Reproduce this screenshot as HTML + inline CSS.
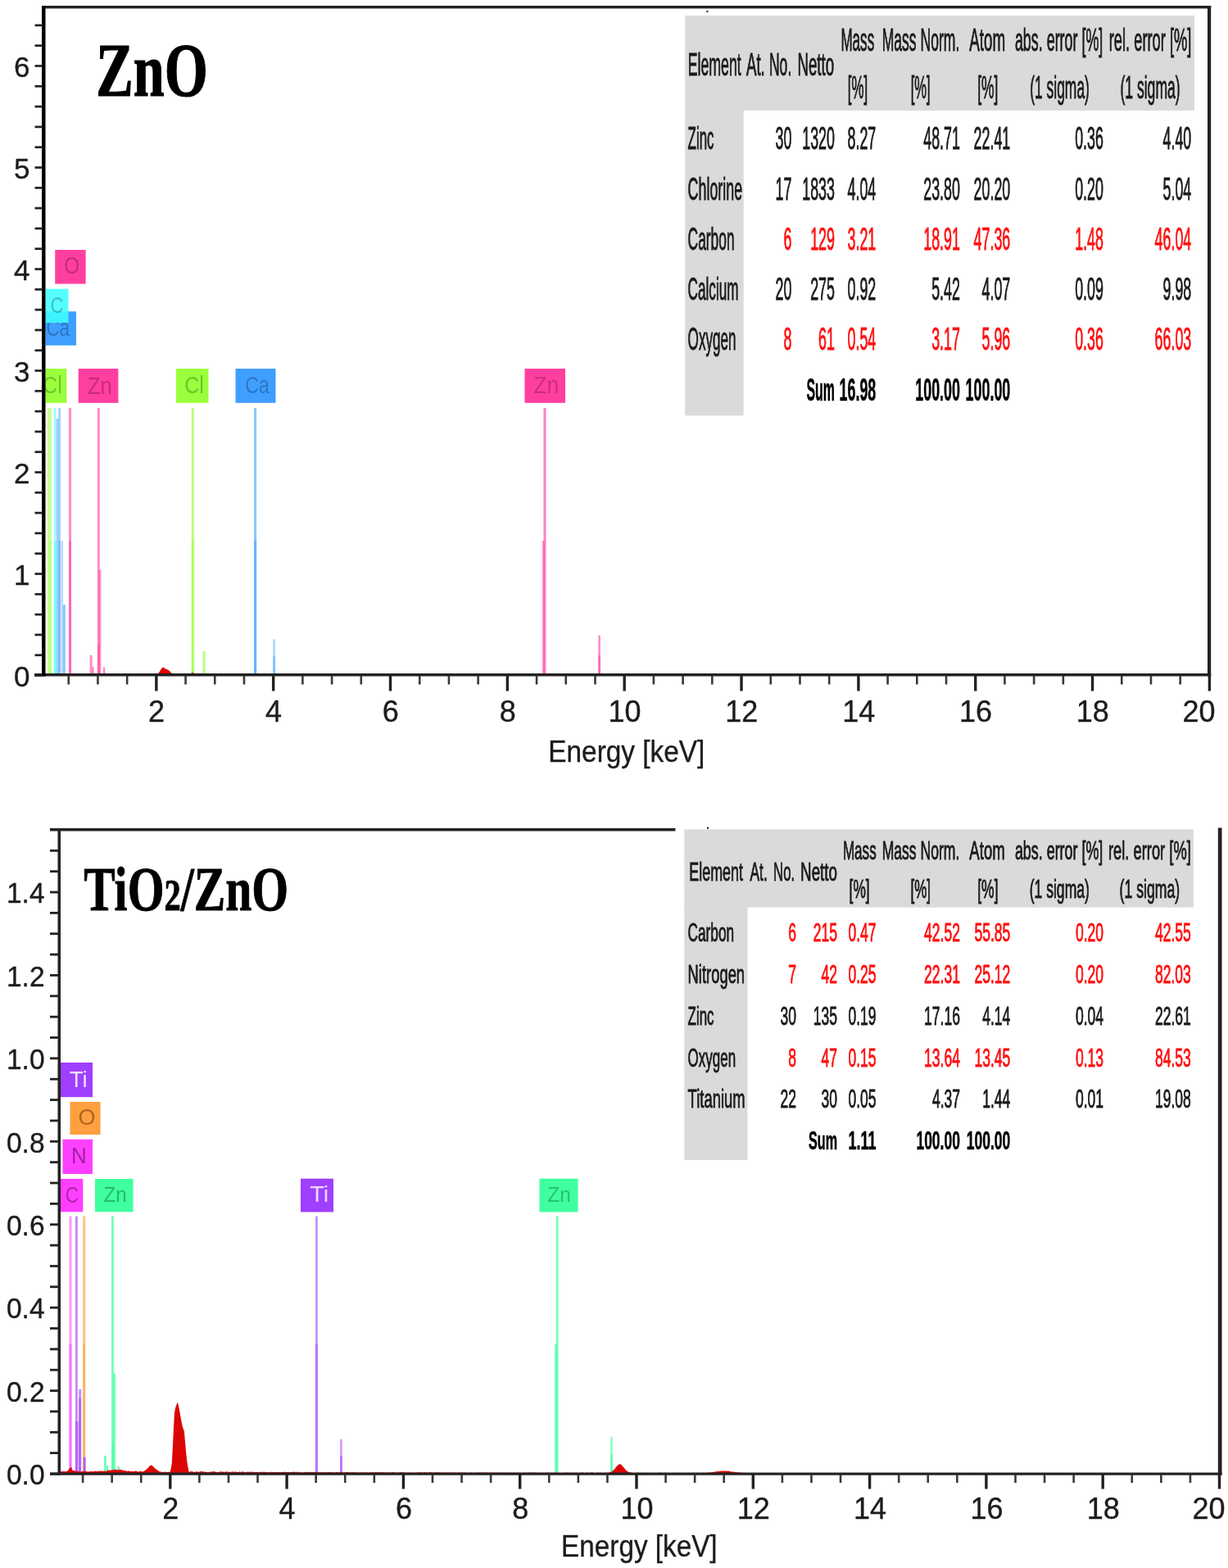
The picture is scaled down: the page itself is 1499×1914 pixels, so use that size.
<!DOCTYPE html>
<html lang="en"><head><meta charset="utf-8"><title>EDX spectra ZnO and TiO2/ZnO</title>
<style>html,body{margin:0;padding:0;background:#fff}body{width:1499px;height:1914px;overflow:hidden}svg{display:block}text{white-space:pre}</style>
</head><body>
<svg width="1499" height="1914" viewBox="0 0 1499 1914">
<rect x="57.77" y="498.00" width="2.60" height="324.50" fill="#9aff3c" opacity="0.55"/>
<rect x="60.13" y="498.00" width="2.60" height="324.50" fill="#9aff3c" opacity="0.55"/>
<rect x="60.13" y="660.25" width="2.60" height="162.25" fill="#9aff3c" opacity="0.4"/>
<rect x="65.84" y="498.00" width="2.60" height="324.50" fill="#3fffff" opacity="0.55"/>
<rect x="65.84" y="660.25" width="2.60" height="162.25" fill="#3fffff" opacity="0.5"/>
<rect x="68.64" y="510.98" width="3.00" height="311.52" fill="#3f9fff" opacity="0.5"/>
<rect x="71.14" y="498.00" width="3.00" height="324.50" fill="#3f9fff" opacity="0.45"/>
<rect x="71.34" y="660.25" width="2.60" height="162.25" fill="#3f9fff" opacity="0.4"/>
<rect x="74.65" y="660.25" width="2.40" height="162.25" fill="#3f9fff" opacity="0.35"/>
<rect x="76.85" y="738.13" width="3.00" height="84.37" fill="#3f9fff" opacity="0.6"/>
<rect x="84.00" y="498.00" width="3.00" height="324.50" fill="#ff3f9f" opacity="0.6"/>
<rect x="84.00" y="660.25" width="3.00" height="162.25" fill="#ff3f9f" opacity="0.5"/>
<rect x="109.64" y="799.78" width="3.00" height="22.72" fill="#ff3f9f" opacity="0.6"/>
<rect x="112.10" y="814.39" width="2.50" height="8.11" fill="#ff3f9f" opacity="0.6"/>
<rect x="118.78" y="498.00" width="3.00" height="324.50" fill="#ff3f9f" opacity="0.6"/>
<rect x="120.42" y="695.94" width="3.00" height="126.56" fill="#ff3f9f" opacity="0.55"/>
<rect x="118.98" y="786.80" width="2.60" height="35.70" fill="#ff3f9f" opacity="0.5"/>
<rect x="125.81" y="814.39" width="2.50" height="8.11" fill="#ff3f9f" opacity="0.6"/>
<rect x="233.76" y="498.00" width="3.00" height="324.50" fill="#9aff3c" opacity="0.7"/>
<rect x="233.76" y="660.25" width="3.00" height="162.25" fill="#9aff3c" opacity="0.5"/>
<rect x="247.62" y="794.92" width="3.00" height="27.58" fill="#9aff3c" opacity="0.7"/>
<rect x="310.11" y="498.00" width="3.00" height="324.50" fill="#3f9fff" opacity="0.62"/>
<rect x="310.11" y="660.25" width="3.00" height="162.25" fill="#3f9fff" opacity="0.5"/>
<rect x="333.11" y="780.32" width="3.00" height="42.18" fill="#3f9fff" opacity="0.4"/>
<rect x="333.11" y="801.41" width="3.00" height="21.09" fill="#3f9fff" opacity="0.4"/>
<rect x="663.50" y="498.00" width="3.00" height="324.50" fill="#ff3f9f" opacity="0.65"/>
<rect x="662.05" y="660.25" width="2.60" height="162.25" fill="#ff3f9f" opacity="0.6"/>
<rect x="730.33" y="775.45" width="2.60" height="47.05" fill="#ff3f9f" opacity="0.6"/>
<rect x="730.33" y="799.78" width="2.60" height="22.72" fill="#ff3f9f" opacity="0.5"/>
<path d="M192.5 823 L195 819.5 L197.5 815.5 L199.5 814.5 L202 816.5 L205 817.5 L207.5 819.5 L210.5 823 Z" fill="#dc0505"/>
<path d="M231 823 L235 820.8 L238.5 823 Z" fill="#dc0505"/>
<path d="M124 823 L128 821.8 L136 823 Z" fill="#ff3f9f" opacity="0.6"/>
<rect x="55.50" y="380.20" width="37.50" height="41.40" fill="#3f9fff" />
<text x="56.40" y="409.50" font-size="29" fill="#0a3264" font-family='"Liberation Sans", sans-serif' textLength="28.70" lengthAdjust="spacingAndGlyphs" opacity="0.36">Ca</text>
<rect x="55.50" y="352.60" width="28.00" height="41.40" fill="#3fffff" opacity="0.88"/>
<text x="61.60" y="381.80" font-size="28" fill="#0a5050" font-family='"Liberation Sans", sans-serif' textLength="16.00" lengthAdjust="spacingAndGlyphs" opacity="0.36">C</text>
<rect x="67.20" y="305.00" width="37.40" height="41.50" fill="#ff3f9f" />
<text x="78.20" y="334.00" font-size="30" fill="#5a0832" font-family='"Liberation Sans", sans-serif' textLength="18.90" lengthAdjust="spacingAndGlyphs" opacity="0.34">O</text>
<rect x="55.50" y="450.00" width="25.90" height="41.80" fill="#9aff3c" />
<text x="52.10" y="480.00" font-size="29" fill="#2c5a05" font-family='"Liberation Sans", sans-serif' textLength="23.60" lengthAdjust="spacingAndGlyphs" opacity="0.36">Cl</text>
<rect x="95.70" y="450.00" width="48.70" height="41.80" fill="#ff3f9f" />
<text x="107.00" y="481.00" font-size="29.5" fill="#5a0832" font-family='"Liberation Sans", sans-serif' textLength="29.80" lengthAdjust="spacingAndGlyphs" opacity="0.34">Zn</text>
<rect x="215.00" y="450.00" width="39.50" height="41.80" fill="#9aff3c" />
<text x="225.20" y="480.00" font-size="29" fill="#2c5a05" font-family='"Liberation Sans", sans-serif' textLength="23.60" lengthAdjust="spacingAndGlyphs" opacity="0.36">Cl</text>
<rect x="287.50" y="450.00" width="49.00" height="41.80" fill="#3f9fff" />
<text x="299.20" y="480.00" font-size="29" fill="#0a3264" font-family='"Liberation Sans", sans-serif' textLength="29.60" lengthAdjust="spacingAndGlyphs" opacity="0.36">Ca</text>
<rect x="640.50" y="450.00" width="49.50" height="41.80" fill="#ff3f9f" />
<text x="651.20" y="480.00" font-size="29" fill="#5a0832" font-family='"Liberation Sans", sans-serif' textLength="31.10" lengthAdjust="spacingAndGlyphs" opacity="0.3">Zn</text>
<rect x="51.00" y="7.00" width="1427.20" height="3.40" fill="#222" />
<rect x="1474.00" y="7.00" width="4.20" height="818.50" fill="#222" />
<rect x="42.00" y="822.00" width="1436.20" height="3.50" fill="#222" />
<rect x="51.00" y="7.00" width="4.50" height="818.50" fill="#000" />
<rect x="42.50" y="823.15" width="9.50" height="2.70" fill="#222" />
<rect x="42.50" y="798.35" width="9.50" height="2.70" fill="#222" />
<rect x="42.50" y="773.55" width="9.50" height="2.70" fill="#222" />
<rect x="42.50" y="748.75" width="9.50" height="2.70" fill="#222" />
<rect x="42.50" y="723.95" width="9.50" height="2.70" fill="#222" />
<rect x="42.50" y="699.15" width="9.50" height="2.70" fill="#222" />
<rect x="42.50" y="674.35" width="9.50" height="2.70" fill="#222" />
<rect x="42.50" y="649.55" width="9.50" height="2.70" fill="#222" />
<rect x="42.50" y="624.75" width="9.50" height="2.70" fill="#222" />
<rect x="42.50" y="599.95" width="9.50" height="2.70" fill="#222" />
<rect x="42.50" y="575.15" width="9.50" height="2.70" fill="#222" />
<rect x="42.50" y="550.35" width="9.50" height="2.70" fill="#222" />
<rect x="42.50" y="525.55" width="9.50" height="2.70" fill="#222" />
<rect x="42.50" y="500.75" width="9.50" height="2.70" fill="#222" />
<rect x="42.50" y="475.95" width="9.50" height="2.70" fill="#222" />
<rect x="42.50" y="451.15" width="9.50" height="2.70" fill="#222" />
<rect x="42.50" y="426.35" width="9.50" height="2.70" fill="#222" />
<rect x="42.50" y="401.55" width="9.50" height="2.70" fill="#222" />
<rect x="42.50" y="376.75" width="9.50" height="2.70" fill="#222" />
<rect x="42.50" y="351.95" width="9.50" height="2.70" fill="#222" />
<rect x="42.50" y="327.15" width="9.50" height="2.70" fill="#222" />
<rect x="42.50" y="302.35" width="9.50" height="2.70" fill="#222" />
<rect x="42.50" y="277.55" width="9.50" height="2.70" fill="#222" />
<rect x="42.50" y="252.75" width="9.50" height="2.70" fill="#222" />
<rect x="42.50" y="227.95" width="9.50" height="2.70" fill="#222" />
<rect x="42.50" y="203.15" width="9.50" height="2.70" fill="#222" />
<rect x="42.50" y="178.35" width="9.50" height="2.70" fill="#222" />
<rect x="42.50" y="153.55" width="9.50" height="2.70" fill="#222" />
<rect x="42.50" y="128.75" width="9.50" height="2.70" fill="#222" />
<rect x="42.50" y="103.95" width="9.50" height="2.70" fill="#222" />
<rect x="42.50" y="79.15" width="9.50" height="2.70" fill="#222" />
<rect x="42.50" y="54.35" width="9.50" height="2.70" fill="#222" />
<rect x="42.50" y="29.55" width="9.50" height="2.70" fill="#222" />
<text x="36.50" y="837.70" font-size="35" fill="#1c1c1c" font-family='"Liberation Sans", sans-serif' text-anchor="end" stroke="#1c1c1c" stroke-width="0.35" >0</text>
<text x="36.50" y="713.70" font-size="35" fill="#1c1c1c" font-family='"Liberation Sans", sans-serif' text-anchor="end" stroke="#1c1c1c" stroke-width="0.35" >1</text>
<text x="36.50" y="589.70" font-size="35" fill="#1c1c1c" font-family='"Liberation Sans", sans-serif' text-anchor="end" stroke="#1c1c1c" stroke-width="0.35" >2</text>
<text x="36.50" y="465.70" font-size="35" fill="#1c1c1c" font-family='"Liberation Sans", sans-serif' text-anchor="end" stroke="#1c1c1c" stroke-width="0.35" >3</text>
<text x="36.50" y="341.70" font-size="35" fill="#1c1c1c" font-family='"Liberation Sans", sans-serif' text-anchor="end" stroke="#1c1c1c" stroke-width="0.35" >4</text>
<text x="36.50" y="217.70" font-size="35" fill="#1c1c1c" font-family='"Liberation Sans", sans-serif' text-anchor="end" stroke="#1c1c1c" stroke-width="0.35" >5</text>
<text x="36.50" y="93.70" font-size="35" fill="#1c1c1c" font-family='"Liberation Sans", sans-serif' text-anchor="end" stroke="#1c1c1c" stroke-width="0.35" >6</text>
<rect x="82.41" y="825.00" width="2.60" height="10.50" fill="#3a3a3a" />
<rect x="118.12" y="825.00" width="2.60" height="10.50" fill="#3a3a3a" />
<rect x="153.83" y="825.00" width="2.60" height="10.50" fill="#3a3a3a" />
<rect x="189.14" y="825.00" width="3.40" height="18.50" fill="#222" />
<rect x="225.25" y="825.00" width="2.60" height="10.50" fill="#3a3a3a" />
<rect x="260.96" y="825.00" width="2.60" height="10.50" fill="#3a3a3a" />
<rect x="296.67" y="825.00" width="2.60" height="10.50" fill="#3a3a3a" />
<rect x="331.98" y="825.00" width="3.40" height="18.50" fill="#222" />
<rect x="368.09" y="825.00" width="2.60" height="10.50" fill="#3a3a3a" />
<rect x="403.80" y="825.00" width="2.60" height="10.50" fill="#3a3a3a" />
<rect x="439.51" y="825.00" width="2.60" height="10.50" fill="#3a3a3a" />
<rect x="474.82" y="825.00" width="3.40" height="18.50" fill="#222" />
<rect x="510.93" y="825.00" width="2.60" height="10.50" fill="#3a3a3a" />
<rect x="546.64" y="825.00" width="2.60" height="10.50" fill="#3a3a3a" />
<rect x="582.35" y="825.00" width="2.60" height="10.50" fill="#3a3a3a" />
<rect x="617.66" y="825.00" width="3.40" height="18.50" fill="#222" />
<rect x="653.77" y="825.00" width="2.60" height="10.50" fill="#3a3a3a" />
<rect x="689.48" y="825.00" width="2.60" height="10.50" fill="#3a3a3a" />
<rect x="725.19" y="825.00" width="2.60" height="10.50" fill="#3a3a3a" />
<rect x="760.50" y="825.00" width="3.40" height="18.50" fill="#222" />
<rect x="796.61" y="825.00" width="2.60" height="10.50" fill="#3a3a3a" />
<rect x="832.32" y="825.00" width="2.60" height="10.50" fill="#3a3a3a" />
<rect x="868.03" y="825.00" width="2.60" height="10.50" fill="#3a3a3a" />
<rect x="903.34" y="825.00" width="3.40" height="18.50" fill="#222" />
<rect x="939.45" y="825.00" width="2.60" height="10.50" fill="#3a3a3a" />
<rect x="975.16" y="825.00" width="2.60" height="10.50" fill="#3a3a3a" />
<rect x="1010.87" y="825.00" width="2.60" height="10.50" fill="#3a3a3a" />
<rect x="1046.18" y="825.00" width="3.40" height="18.50" fill="#222" />
<rect x="1082.29" y="825.00" width="2.60" height="10.50" fill="#3a3a3a" />
<rect x="1118.00" y="825.00" width="2.60" height="10.50" fill="#3a3a3a" />
<rect x="1153.71" y="825.00" width="2.60" height="10.50" fill="#3a3a3a" />
<rect x="1189.02" y="825.00" width="3.40" height="18.50" fill="#222" />
<rect x="1225.13" y="825.00" width="2.60" height="10.50" fill="#3a3a3a" />
<rect x="1260.84" y="825.00" width="2.60" height="10.50" fill="#3a3a3a" />
<rect x="1296.55" y="825.00" width="2.60" height="10.50" fill="#3a3a3a" />
<rect x="1331.86" y="825.00" width="3.40" height="18.50" fill="#222" />
<rect x="1367.97" y="825.00" width="2.60" height="10.50" fill="#3a3a3a" />
<rect x="1403.68" y="825.00" width="2.60" height="10.50" fill="#3a3a3a" />
<rect x="1439.39" y="825.00" width="2.60" height="10.50" fill="#3a3a3a" />
<rect x="1474.70" y="825.00" width="3.40" height="18.50" fill="#222" />
<text x="191.14" y="880.60" font-size="36" fill="#1c1c1c" font-family='"Liberation Sans", sans-serif' text-anchor="middle" stroke="#1c1c1c" stroke-width="0.35" >2</text>
<text x="333.98" y="880.60" font-size="36" fill="#1c1c1c" font-family='"Liberation Sans", sans-serif' text-anchor="middle" stroke="#1c1c1c" stroke-width="0.35" >4</text>
<text x="476.82" y="880.60" font-size="36" fill="#1c1c1c" font-family='"Liberation Sans", sans-serif' text-anchor="middle" stroke="#1c1c1c" stroke-width="0.35" >6</text>
<text x="619.66" y="880.60" font-size="36" fill="#1c1c1c" font-family='"Liberation Sans", sans-serif' text-anchor="middle" stroke="#1c1c1c" stroke-width="0.35" >8</text>
<text x="762.50" y="880.60" font-size="36" fill="#1c1c1c" font-family='"Liberation Sans", sans-serif' text-anchor="middle" stroke="#1c1c1c" stroke-width="0.35" >10</text>
<text x="905.34" y="880.60" font-size="36" fill="#1c1c1c" font-family='"Liberation Sans", sans-serif' text-anchor="middle" stroke="#1c1c1c" stroke-width="0.35" >12</text>
<text x="1048.18" y="880.60" font-size="36" fill="#1c1c1c" font-family='"Liberation Sans", sans-serif' text-anchor="middle" stroke="#1c1c1c" stroke-width="0.35" >14</text>
<text x="1191.02" y="880.60" font-size="36" fill="#1c1c1c" font-family='"Liberation Sans", sans-serif' text-anchor="middle" stroke="#1c1c1c" stroke-width="0.35" >16</text>
<text x="1333.86" y="880.60" font-size="36" fill="#1c1c1c" font-family='"Liberation Sans", sans-serif' text-anchor="middle" stroke="#1c1c1c" stroke-width="0.35" >18</text>
<text x="1483.50" y="880.60" font-size="36" fill="#1c1c1c" font-family='"Liberation Sans", sans-serif' text-anchor="end" stroke="#1c1c1c" stroke-width="0.35" >20</text>
<text x="669.30" y="930.30" font-size="36" fill="#1c1c1c" font-family='"Liberation Sans", sans-serif' textLength="191.00" lengthAdjust="spacingAndGlyphs" stroke="#1c1c1c" stroke-width="0.35" >Energy [keV]</text>
<text x="117.30" y="117.00" font-size="94" fill="#000" font-family='"Liberation Serif", serif' textLength="136.50" lengthAdjust="spacingAndGlyphs" font-weight="bold" stroke="#000" stroke-width="1.2" >ZnO</text>
<rect x="84.49" y="1484.60" width="3.00" height="312.90" fill="#ff3fff" opacity="0.55"/>
<rect x="84.49" y="1641.05" width="3.00" height="156.45" fill="#ff3fff" opacity="0.5"/>
<rect x="91.89" y="1484.60" width="3.00" height="312.90" fill="#9f3fff" opacity="0.6"/>
<rect x="91.89" y="1734.92" width="3.00" height="62.58" fill="#9f3fff" opacity="0.5"/>
<rect x="96.16" y="1695.81" width="3.00" height="101.69" fill="#9f3fff" opacity="0.6"/>
<rect x="96.16" y="1706.76" width="3.00" height="90.74" fill="#9f3fff" opacity="0.5"/>
<rect x="94.42" y="1734.92" width="2.50" height="62.58" fill="#9f3fff" opacity="0.3"/>
<rect x="101.14" y="1484.60" width="3.00" height="312.90" fill="#ff9f3f" opacity="0.65"/>
<rect x="101.14" y="1641.05" width="3.00" height="156.45" fill="#ff9f3f" opacity="0.45"/>
<rect x="101.71" y="1778.73" width="3.00" height="18.77" fill="#9f3fff" opacity="0.7"/>
<rect x="127.10" y="1776.85" width="2.60" height="20.65" fill="#3fff9f" opacity="0.8"/>
<rect x="129.71" y="1789.68" width="2.50" height="7.82" fill="#3fff9f" opacity="0.8"/>
<rect x="136.00" y="1484.60" width="3.00" height="312.90" fill="#3fff9f" opacity="0.7"/>
<rect x="138.00" y="1676.41" width="3.00" height="121.09" fill="#3fff9f" opacity="0.7"/>
<rect x="136.00" y="1763.08" width="3.00" height="34.42" fill="#3fff9f" opacity="0.5"/>
<rect x="143.58" y="1789.99" width="2.50" height="7.51" fill="#3fff9f" opacity="0.8"/>
<rect x="384.96" y="1484.60" width="3.00" height="312.90" fill="#9f3fff" opacity="0.55"/>
<rect x="384.96" y="1641.05" width="3.00" height="156.45" fill="#9f3fff" opacity="0.4"/>
<rect x="415.01" y="1756.82" width="2.80" height="40.68" fill="#9f3fff" opacity="0.5"/>
<rect x="415.01" y="1777.16" width="2.80" height="20.34" fill="#9f3fff" opacity="0.5"/>
<rect x="678.66" y="1484.60" width="3.00" height="312.90" fill="#3fff9f" opacity="0.7"/>
<rect x="677.23" y="1641.05" width="2.60" height="156.45" fill="#3fff9f" opacity="0.75"/>
<rect x="745.25" y="1753.69" width="2.60" height="43.81" fill="#3fff9f" opacity="0.6"/>
<rect x="745.25" y="1775.60" width="2.60" height="21.90" fill="#3fff9f" opacity="0.6"/>
<path d="M74 1799 L74.0 1796.1 L75.0 1796.4 L76.0 1795.6 L77.0 1796.5 L78.0 1795.8 L79.0 1796.0 L80.0 1796.5 L81.0 1795.7 L82.0 1796.1 L83.0 1794.7 L84.0 1793.8 L85.0 1792.2 L86.0 1791.0 L87.0 1791.1 L88.0 1793.8 L89.0 1795.1 L90.0 1795.3 L91.0 1795.1 L92.0 1795.8 L93.0 1796.1 L94.0 1795.2 L95.0 1796.6 L96.0 1795.4 L97.0 1796.2 L98.0 1796.5 L99.0 1796.5 L100.0 1796.2 L101.0 1795.5 L102.0 1796.4 L103.0 1795.8 L104.0 1795.8 L105.0 1796.2 L106.0 1795.9 L107.0 1796.6 L108.0 1796.6 L109.0 1796.4 L110.0 1795.7 L111.0 1796.1 L112.0 1796.3 L113.0 1795.9 L114.0 1796.1 L115.0 1796.3 L116.0 1795.6 L117.0 1795.7 L118.0 1796.3 L119.0 1795.8 L120.0 1795.9 L121.0 1795.4 L122.0 1795.5 L123.0 1796.1 L124.0 1795.1 L125.0 1796.2 L126.0 1795.7 L127.0 1795.2 L128.0 1795.9 L129.0 1795.4 L130.0 1795.9 L131.0 1794.9 L132.0 1794.7 L133.0 1794.8 L134.0 1794.3 L135.0 1794.9 L136.0 1794.3 L137.0 1794.3 L138.0 1794.3 L139.0 1794.4 L140.0 1793.8 L141.0 1793.6 L142.0 1794.2 L143.0 1793.9 L144.0 1794.8 L145.0 1793.9 L146.0 1794.1 L147.0 1793.7 L148.0 1794.0 L149.0 1794.8 L150.0 1794.8 L151.0 1794.5 L152.0 1795.5 L153.0 1795.0 L154.0 1795.6 L155.0 1795.7 L156.0 1795.9 L157.0 1795.1 L158.0 1796.1 L159.0 1796.0 L160.0 1795.9 L161.0 1795.4 L162.0 1796.5 L163.0 1796.0 L164.0 1796.0 L165.0 1795.6 L166.0 1795.7 L167.0 1795.7 L168.0 1796.5 L169.0 1796.3 L170.0 1796.4 L171.0 1795.7 L172.0 1795.6 L173.0 1796.5 L174.0 1796.4 L175.0 1796.1 L176.0 1795.7 L177.0 1794.8 L178.0 1793.9 L179.0 1793.4 L180.0 1792.7 L181.0 1791.1 L182.0 1790.2 L183.0 1789.2 L184.0 1788.3 L185.0 1788.7 L186.0 1789.3 L187.0 1789.9 L188.0 1790.9 L189.0 1792.7 L190.0 1792.7 L191.0 1793.8 L192.0 1794.4 L193.0 1795.1 L194.0 1795.9 L195.0 1796.2 L196.0 1796.7 L197.0 1796.2 L198.0 1796.9 L199.0 1796.9 L200.0 1796.8 L201.0 1796.8 L202.0 1796.6 L203.0 1797.0 L204.0 1797.0 L205.0 1796.8 L206.0 1796.9 L207.0 1796.6 L208.0 1797.0 L209.0 1796.0 L210.0 1796.3 L211.0 1796.9 L212.0 1796.8 L213.0 1796.6 L214.0 1796.6 L215.0 1796.9 L216.0 1796.1 L217.0 1795.9 L218.0 1796.5 L219.0 1796.5 L220.0 1797.0 L221.0 1797.0 L222.0 1796.7 L223.0 1796.8 L224.0 1796.1 L225.0 1796.9 L226.0 1797.1 L227.0 1796.0 L228.0 1796.5 L229.0 1796.9 L230.0 1796.5 L231.0 1797.1 L232.0 1796.5 L233.0 1796.0 L234.0 1796.1 L235.0 1796.3 L236.0 1796.8 L237.0 1796.7 L238.0 1796.9 L239.0 1796.3 L240.0 1796.5 L241.0 1796.3 L242.0 1796.8 L243.0 1796.9 L244.0 1796.3 L245.0 1796.1 L246.0 1796.2 L247.0 1796.3 L248.0 1796.3 L249.0 1796.4 L250.0 1796.9 L251.0 1796.6 L252.0 1796.8 L253.0 1797.1 L254.0 1797.1 L255.0 1796.9 L256.0 1796.9 L257.0 1796.4 L258.0 1796.2 L259.0 1796.7 L260.0 1796.2 L261.0 1796.1 L262.0 1796.2 L263.0 1796.8 L264.0 1797.0 L265.0 1797.0 L266.0 1797.0 L267.0 1797.0 L268.0 1796.6 L269.0 1796.3 L270.0 1796.3 L271.0 1796.7 L272.0 1796.5 L273.0 1796.4 L274.0 1797.1 L275.0 1796.5 L276.0 1796.3 L277.0 1796.4 L278.0 1796.5 L279.0 1796.7 L280.0 1797.1 L281.0 1796.4 L282.0 1796.9 L283.0 1796.4 L284.0 1796.3 L285.0 1796.8 L286.0 1796.8 L287.0 1796.3 L288.0 1796.5 L289.0 1797.1 L290.0 1797.1 L291.0 1797.1 L292.0 1796.4 L293.0 1796.5 L294.0 1797.1 L295.0 1796.5 L296.0 1796.3 L297.0 1796.6 L298.0 1796.9 L299.0 1796.7 L300.0 1797.2 L301.0 1797.3 L302.0 1796.3 L303.0 1796.7 L304.0 1796.8 L305.0 1796.4 L306.0 1796.9 L307.0 1796.5 L308.0 1796.5 L309.0 1797.1 L310.0 1797.1 L311.0 1797.0 L312.0 1797.1 L313.0 1796.8 L314.0 1797.1 L315.0 1796.9 L316.0 1797.2 L317.0 1796.5 L318.0 1797.0 L319.0 1796.9 L320.0 1796.8 L321.0 1796.5 L322.0 1796.9 L323.0 1796.5 L324.0 1796.9 L325.0 1796.8 L326.0 1796.9 L327.0 1797.3 L328.0 1796.9 L329.0 1797.2 L330.0 1797.3 L331.0 1796.6 L332.0 1797.2 L333.0 1796.9 L334.0 1796.7 L335.0 1796.9 L336.0 1797.1 L337.0 1796.9 L338.0 1796.9 L339.0 1796.7 L340.0 1797.3 L341.0 1796.9 L342.0 1797.2 L343.0 1797.1 L344.0 1796.7 L345.0 1796.9 L346.0 1796.9 L347.0 1796.7 L348.0 1796.6 L349.0 1797.0 L350.0 1796.9 L351.0 1797.0 L352.0 1797.0 L353.0 1796.8 L354.0 1797.0 L355.0 1796.9 L356.0 1797.0 L357.0 1796.6 L358.0 1796.8 L359.0 1796.7 L360.0 1796.6 L361.0 1797.2 L362.0 1796.9 L363.0 1796.6 L364.0 1796.7 L365.0 1797.3 L366.0 1797.3 L367.0 1797.1 L368.0 1797.4 L369.0 1797.2 L370.0 1797.4 L371.0 1796.9 L372.0 1796.8 L373.0 1796.7 L374.0 1797.3 L375.0 1796.9 L376.0 1796.9 L377.0 1797.3 L378.0 1796.7 L379.0 1796.7 L380.0 1797.3 L381.0 1796.7 L382.0 1797.1 L383.0 1797.1 L384.0 1796.7 L385.0 1796.8 L386.0 1797.3 L387.0 1797.1 L388.0 1797.1 L389.0 1797.2 L390.0 1797.3 L391.0 1797.2 L392.0 1796.9 L393.0 1797.5 L394.0 1797.0 L395.0 1797.1 L396.0 1797.5 L397.0 1797.2 L398.0 1797.0 L399.0 1797.1 L400.0 1797.5 L401.0 1796.7 L402.0 1796.9 L403.0 1796.7 L404.0 1797.4 L405.0 1797.3 L406.0 1797.5 L407.0 1796.9 L408.0 1797.3 L409.0 1797.4 L410.0 1797.2 L411.0 1796.8 L412.0 1796.9 L413.0 1797.3 L414.0 1797.4 L415.0 1796.8 L416.0 1797.1 L417.0 1797.0 L418.0 1797.5 L419.0 1797.5 L420.0 1797.0 L421.0 1797.2 L422.0 1797.5 L423.0 1796.8 L424.0 1797.1 L425.0 1796.9 L426.0 1797.5 L427.0 1796.9 L428.0 1797.5 L429.0 1796.9 L430.0 1797.2 L431.0 1797.3 L432.0 1797.2 L433.0 1796.9 L434.0 1797.4 L435.0 1797.5 L436.0 1797.2 L437.0 1797.4 L438.0 1797.5 L439.0 1797.5 L440.0 1797.5 L441.0 1797.4 L442.0 1797.4 L443.0 1797.4 L444.0 1797.0 L445.0 1797.4 L446.0 1797.2 L447.0 1797.5 L448.0 1797.3 L449.0 1797.6 L450.0 1797.4 L451.0 1797.6 L452.0 1797.1 L453.0 1797.2 L454.0 1797.5 L455.0 1797.3 L456.0 1796.9 L457.0 1797.5 L458.0 1797.0 L459.0 1797.3 L460.0 1797.3 L461.0 1797.0 L462.0 1797.3 L463.0 1797.3 L464.0 1797.1 L465.0 1796.9 L466.0 1797.4 L467.0 1797.0 L468.0 1797.1 L469.0 1797.2 L470.0 1797.4 L471.0 1797.4 L472.0 1797.6 L473.0 1797.6 L474.0 1797.6 L475.0 1797.1 L476.0 1797.5 L477.0 1797.5 L478.0 1797.6 L479.0 1797.1 L480.0 1797.1 L481.0 1797.2 L482.0 1797.5 L483.0 1797.5 L484.0 1797.5 L485.0 1797.4 L486.0 1797.6 L487.0 1797.4 L488.0 1797.5 L489.0 1797.0 L490.0 1797.0 L491.0 1797.3 L492.0 1797.5 L493.0 1797.0 L494.0 1797.5 L495.0 1797.4 L496.0 1797.7 L497.0 1797.4 L498.0 1797.4 L499.0 1797.4 L500.0 1797.6 L501.0 1797.4 L502.0 1797.7 L503.0 1797.5 L504.0 1797.6 L505.0 1797.4 L506.0 1797.7 L507.0 1797.7 L508.0 1797.5 L509.0 1797.6 L510.0 1797.3 L511.0 1797.4 L512.0 1797.2 L513.0 1797.3 L514.0 1797.3 L515.0 1797.2 L516.0 1797.5 L517.0 1797.5 L518.0 1797.1 L519.0 1797.6 L520.0 1797.3 L521.0 1797.3 L522.0 1797.7 L523.0 1797.2 L524.0 1797.2 L525.0 1797.3 L526.0 1797.3 L527.0 1797.2 L528.0 1797.6 L529.0 1797.4 L530.0 1797.4 L531.0 1797.2 L532.0 1797.2 L533.0 1797.2 L534.0 1797.4 L535.0 1797.2 L536.0 1797.3 L537.0 1797.3 L538.0 1797.6 L539.0 1797.7 L540.0 1797.7 L541.0 1797.5 L542.0 1797.7 L543.0 1797.3 L544.0 1797.4 L545.0 1797.4 L546.0 1797.4 L547.0 1797.4 L548.0 1797.5 L549.0 1797.8 L550.0 1797.3 L551.0 1797.3 L552.0 1797.5 L553.0 1797.5 L554.0 1797.4 L555.0 1797.7 L556.0 1797.3 L557.0 1797.6 L558.0 1797.7 L559.0 1797.6 L560.0 1797.4 L561.0 1797.7 L562.0 1797.4 L563.0 1797.2 L564.0 1797.5 L565.0 1797.6 L566.0 1797.5 L567.0 1797.4 L568.0 1797.4 L569.0 1797.4 L570.0 1797.4 L571.0 1797.7 L572.0 1797.7 L573.0 1797.7 L574.0 1797.4 L575.0 1797.6 L576.0 1797.5 L577.0 1797.8 L578.0 1797.8 L579.0 1797.7 L580.0 1797.4 L581.0 1797.4 L582.0 1797.4 L583.0 1797.6 L584.0 1797.5 L585.0 1797.6 L586.0 1797.6 L587.0 1797.8 L588.0 1797.3 L589.0 1797.7 L590.0 1797.3 L591.0 1797.3 L592.0 1797.8 L593.0 1797.6 L594.0 1797.4 L595.0 1797.3 L596.0 1797.6 L597.0 1797.7 L598.0 1797.7 L599.0 1797.3 L600.0 1797.7 L601.0 1797.5 L602.0 1797.8 L603.0 1797.6 L604.0 1797.3 L605.0 1797.8 L606.0 1797.4 L607.0 1797.6 L608.0 1797.4 L609.0 1797.5 L610.0 1797.7 L611.0 1797.4 L612.0 1797.6 L613.0 1797.8 L614.0 1797.8 L615.0 1797.6 L616.0 1797.6 L617.0 1797.7 L618.0 1797.8 L619.0 1797.7 L620.0 1797.7 L621.0 1797.4 L622.0 1797.9 L623.0 1797.5 L624.0 1797.4 L625.0 1797.8 L626.0 1797.4 L627.0 1797.5 L628.0 1797.4 L629.0 1797.7 L630.0 1797.7 L631.0 1797.7 L632.0 1797.4 L633.0 1797.6 L634.0 1797.7 L635.0 1797.7 L636.0 1797.7 L637.0 1797.9 L638.0 1797.8 L639.0 1797.5 L640.0 1797.7 L641.0 1797.4 L642.0 1797.8 L643.0 1797.8 L644.0 1797.6 L645.0 1797.8 L646.0 1797.7 L647.0 1797.4 L648.0 1797.5 L649.0 1797.5 L650.0 1797.6 L651.0 1797.5 L652.0 1797.4 L653.0 1797.6 L654.0 1797.6 L655.0 1797.9 L656.0 1797.6 L657.0 1797.7 L658.0 1797.5 L659.0 1797.6 L660.0 1797.8 L661.0 1797.9 L662.0 1797.5 L663.0 1797.9 L664.0 1797.7 L665.0 1797.8 L666.0 1797.8 L667.0 1797.6 L668.0 1797.5 L669.0 1797.8 L670.0 1797.6 L671.0 1797.8 L672.0 1797.7 L673.0 1797.7 L674.0 1797.8 L675.0 1797.9 L676.0 1797.8 L677.0 1797.5 L678.0 1797.7 L679.0 1797.8 L680.0 1797.5 L681.0 1797.5 L682.0 1797.7 L683.0 1797.9 L684.0 1797.9 L685.0 1797.9 L686.0 1797.8 L687.0 1797.9 L688.0 1797.8 L689.0 1797.8 L690.0 1797.7 L691.0 1797.6 L692.0 1797.6 L693.0 1797.8 L694.0 1797.8 L695.0 1797.7 L696.0 1797.8 L697.0 1797.8 L698.0 1797.9 L699.0 1797.8 L700.0 1797.5 L701.0 1797.9 L702.0 1797.7 L703.0 1797.7 L704.0 1797.6 L705.0 1797.9 L706.0 1797.8 L707.0 1797.9 L708.0 1797.8 L709.0 1797.8 L710.0 1797.6 L711.0 1797.6 L712.0 1797.6 L713.0 1798.0 L714.0 1798.0 L715.0 1797.7 L716.0 1797.6 L717.0 1797.8 L718.0 1797.7 L719.0 1798.0 L720.0 1797.8 L721.0 1797.6 L722.0 1797.6 L723.0 1797.6 L724.0 1797.6 L725.0 1797.9 L726.0 1797.9 L727.0 1797.9 L728.0 1797.8 L729.0 1797.7 L730.0 1797.6 L731.0 1797.7 L732.0 1797.7 L733.0 1797.7 L734.0 1797.8 L735.0 1797.8 L736.0 1798.0 L737.0 1797.7 L738.0 1797.9 L739.0 1797.6 L740.0 1797.7 L741.0 1797.8 L742.0 1797.8 L743.0 1797.6 L744.0 1797.3 L745.0 1797.0 L746.0 1796.8 L747.0 1796.2 L748.0 1795.3 L749.0 1794.4 L750.0 1793.3 L751.0 1792.2 L752.0 1790.8 L753.0 1789.8 L754.0 1788.6 L755.0 1787.8 L756.0 1787.2 L757.0 1787.3 L758.0 1787.6 L759.0 1788.6 L760.0 1789.7 L761.0 1790.9 L762.0 1791.9 L763.0 1793.2 L764.0 1794.5 L765.0 1795.5 L766.0 1796.1 L767.0 1796.6 L768.0 1797.1 L769.0 1797.5 L770.0 1797.5 L771.0 1797.5 L772.0 1797.9 L773.0 1798.0 L774.0 1797.9 L775.0 1797.9 L776.0 1797.8 L777.0 1798.0 L778.0 1797.7 L779.0 1797.8 L780.0 1797.8 L781.0 1798.0 L782.0 1797.7 L783.0 1797.9 L784.0 1797.7 L785.0 1798.0 L786.0 1798.0 L787.0 1797.8 L788.0 1797.9 L789.0 1797.7 L790.0 1797.9 L791.0 1798.0 L792.0 1798.0 L793.0 1797.9 L794.0 1797.8 L795.0 1797.7 L796.0 1798.0 L797.0 1797.9 L798.0 1798.0 L799.0 1797.7 L800.0 1798.0 L801.0 1798.0 L802.0 1798.0 L803.0 1797.9 L804.0 1797.7 L805.0 1797.7 L806.0 1797.8 L807.0 1797.7 L808.0 1797.7 L809.0 1797.9 L810.0 1798.0 L811.0 1797.7 L812.0 1797.8 L813.0 1798.1 L814.0 1797.8 L815.0 1797.9 L816.0 1797.9 L817.0 1798.0 L818.0 1798.0 L819.0 1798.1 L820.0 1798.0 L821.0 1798.0 L822.0 1797.7 L823.0 1798.0 L824.0 1797.7 L825.0 1798.0 L826.0 1798.0 L827.0 1797.8 L828.0 1797.8 L829.0 1797.9 L830.0 1798.1 L831.0 1797.9 L832.0 1798.0 L833.0 1797.8 L834.0 1798.0 L835.0 1798.0 L836.0 1797.8 L837.0 1798.1 L838.0 1798.0 L839.0 1797.8 L840.0 1797.8 L841.0 1798.1 L842.0 1798.1 L843.0 1798.1 L844.0 1797.8 L845.0 1798.0 L846.0 1797.8 L847.0 1797.8 L848.0 1798.0 L849.0 1798.0 L850.0 1797.8 L851.0 1797.9 L852.0 1798.0 L853.0 1797.8 L854.0 1798.0 L855.0 1798.0 L856.0 1798.1 L857.0 1797.8 L858.0 1797.7 L859.0 1797.8 L860.0 1797.7 L861.0 1797.9 L862.0 1797.8 L863.0 1797.7 L864.0 1797.5 L865.0 1797.4 L866.0 1797.5 L867.0 1797.4 L868.0 1797.3 L869.0 1797.1 L870.0 1796.9 L871.0 1797.0 L872.0 1796.6 L873.0 1796.5 L874.0 1796.3 L875.0 1796.2 L876.0 1796.1 L877.0 1796.1 L878.0 1795.9 L879.0 1795.8 L880.0 1795.6 L881.0 1795.7 L882.0 1795.6 L883.0 1795.4 L884.0 1795.5 L885.0 1795.6 L886.0 1795.7 L887.0 1795.6 L888.0 1795.7 L889.0 1795.6 L890.0 1795.8 L891.0 1795.9 L892.0 1796.2 L893.0 1796.4 L894.0 1796.6 L895.0 1796.6 L896.0 1796.7 L897.0 1796.9 L898.0 1797.1 L899.0 1797.2 L900.0 1797.3 L901.0 1797.3 L902.0 1797.4 L903.0 1797.5 L904.0 1797.6 L905.0 1797.8 L906.0 1797.7 L907.0 1797.9 L908.0 1797.8 L909.0 1797.9 L910.0 1797.8 L911.0 1798.0 L912.0 1798.0 L913.0 1798.0 L914.0 1798.1 L915.0 1797.9 L916.0 1798.0 L917.0 1798.0 L918.0 1798.0 L919.0 1797.9 L920.0 1798.0 L921.0 1798.1 L922.0 1797.9 L923.0 1798.0 L924.0 1797.9 L925.0 1798.1 L926.0 1798.0 L927.0 1797.9 L928.0 1797.9 L929.0 1797.9 L930.0 1798.1 L931.0 1798.1 L932.0 1798.1 L933.0 1798.1 L934.0 1797.9 L935.0 1798.0 L936.0 1797.9 L937.0 1798.1 L938.0 1797.9 L939.0 1798.0 L940.0 1798.1 L941.0 1798.0 L942.0 1797.9 L943.0 1798.1 L944.0 1798.0 L945.0 1798.0 L946.0 1798.1 L947.0 1798.1 L948.0 1798.1 L949.0 1798.1 L950.0 1798.1 L951.0 1798.0 L952.0 1798.0 L953.0 1798.1 L954.0 1798.2 L955.0 1798.1 L956.0 1798.0 L957.0 1798.1 L958.0 1798.1 L959.0 1798.1 L960.0 1798.0 L961.0 1798.0 L962.0 1798.2 L963.0 1798.2 L964.0 1798.1 L965.0 1798.0 L966.0 1798.0 L967.0 1798.2 L968.0 1798.1 L969.0 1798.0 L970.0 1798.1 L971.0 1798.1 L972.0 1798.1 L973.0 1797.9 L974.0 1798.1 L975.0 1798.0 L976.0 1798.1 L977.0 1798.1 L978.0 1798.0 L979.0 1797.9 L980.0 1798.1 L981.0 1798.1 L982.0 1798.0 L983.0 1798.1 L984.0 1798.2 L985.0 1798.0 L986.0 1798.1 L987.0 1798.0 L988.0 1798.1 L989.0 1798.0 L990.0 1798.1 L991.0 1798.5 L992.0 1798.5 L993.0 1798.5 L994.0 1798.5 L995.0 1798.5 L996.0 1798.5 L997.0 1798.5 L998.0 1798.5 L999.0 1798.5 L1000.0 1798.5 L1001.0 1798.5 L1002.0 1798.5 L1003.0 1798.5 L1004.0 1798.5 L1005.0 1798.5 L1006.0 1798.5 L1007.0 1798.5 L1008.0 1798.5 L1009.0 1798.5 L1010.0 1798.5 L1011.0 1798.5 L1012.0 1798.5 L1013.0 1798.5 L1014.0 1798.5 L1015.0 1798.5 L1016.0 1798.5 L1017.0 1798.5 L1018.0 1798.5 L1019.0 1798.5 L1020.0 1798.5 L1021.0 1798.5 L1022.0 1798.5 L1023.0 1798.5 L1024.0 1798.5 L1025.0 1798.5 L1026.0 1798.5 L1027.0 1798.5 L1028.0 1798.5 L1029.0 1798.5 L1030.0 1798.5 L1031.0 1798.5 L1032.0 1798.5 L1033.0 1798.5 L1034.0 1798.5 L1035.0 1798.5 L1036.0 1798.5 L1037.0 1798.5 L1038.0 1798.5 L1039.0 1798.5 L1040.0 1798.5 L1041.0 1798.5 L1042.0 1798.5 L1043.0 1798.5 L1044.0 1798.5 L1045.0 1798.5 L1046.0 1798.5 L1047.0 1798.5 L1048.0 1798.5 L1049.0 1798.5 L1050.0 1798.5 L1051.0 1798.5 L1052.0 1798.5 L1053.0 1798.5 L1054.0 1798.5 L1055.0 1798.5 L1056.0 1798.5 L1057.0 1798.5 L1058.0 1798.5 L1059.0 1798.5 L1060.0 1798.5 L1061.0 1798.5 L1062.0 1798.5 L1063.0 1798.5 L1064.0 1798.5 L1065.0 1798.5 L1066.0 1798.5 L1067.0 1798.5 L1068.0 1798.5 L1069.0 1798.5 L1070.0 1798.5 L1071.0 1798.5 L1072.0 1798.5 L1073.0 1798.5 L1074.0 1798.5 L1075.0 1798.5 L1076.0 1798.5 L1077.0 1798.5 L1078.0 1798.5 L1079.0 1798.5 L1080.0 1798.5 L1081.0 1798.5 L1082.0 1798.5 L1083.0 1798.5 L1084.0 1798.5 L1085.0 1798.5 L1086.0 1798.5 L1087.0 1798.5 L1088.0 1798.5 L1089.0 1798.5 L1090.0 1798.5 L1091.0 1798.5 L1092.0 1798.5 L1093.0 1798.5 L1094.0 1798.5 L1095.0 1798.5 L1096.0 1798.5 L1097.0 1798.5 L1098.0 1798.5 L1099.0 1798.5 L1100.0 1798.5 L1101.0 1798.5 L1102.0 1798.5 L1103.0 1798.5 L1104.0 1798.5 L1105.0 1798.5 L1106.0 1798.5 L1107.0 1798.5 L1108.0 1798.5 L1109.0 1798.5 L1110.0 1798.5 L1111.0 1798.5 L1112.0 1798.5 L1113.0 1798.5 L1114.0 1798.5 L1115.0 1798.5 L1116.0 1798.5 L1117.0 1798.5 L1118.0 1798.5 L1119.0 1798.5 L1120.0 1798.5 L1121.0 1798.5 L1122.0 1798.5 L1123.0 1798.5 L1124.0 1798.5 L1125.0 1798.5 L1126.0 1798.5 L1127.0 1798.5 L1128.0 1798.5 L1129.0 1798.5 L1130.0 1798.5 L1131.0 1798.5 L1132.0 1798.5 L1133.0 1798.5 L1134.0 1798.5 L1135.0 1798.5 L1136.0 1798.5 L1137.0 1798.5 L1138.0 1798.5 L1139.0 1798.5 L1140.0 1798.5 L1141.0 1798.5 L1142.0 1798.5 L1143.0 1798.5 L1144.0 1798.5 L1145.0 1798.5 L1146.0 1798.5 L1147.0 1798.5 L1148.0 1798.5 L1149.0 1798.5 L1150.0 1798.5 L1151.0 1798.5 L1152.0 1798.5 L1153.0 1798.5 L1154.0 1798.5 L1155.0 1798.5 L1156.0 1798.5 L1157.0 1798.5 L1158.0 1798.5 L1159.0 1798.5 L1160.0 1798.5 L1161.0 1798.5 L1162.0 1798.5 L1163.0 1798.5 L1164.0 1798.5 L1165.0 1798.5 L1166.0 1798.5 L1167.0 1798.5 L1168.0 1798.5 L1169.0 1798.5 L1170.0 1798.5 L1171.0 1798.5 L1172.0 1798.5 L1173.0 1798.5 L1174.0 1798.5 L1175.0 1798.5 L1176.0 1798.5 L1177.0 1798.5 L1178.0 1798.5 L1179.0 1798.5 L1180.0 1798.5 L1181.0 1798.5 L1182.0 1798.5 L1183.0 1798.5 L1184.0 1798.5 L1185.0 1798.5 L1186.0 1798.5 L1187.0 1798.5 L1188.0 1798.5 L1189.0 1798.5 L1190.0 1798.5 L1191.0 1798.5 L1192.0 1798.5 L1193.0 1798.5 L1194.0 1798.5 L1195.0 1798.5 L1196.0 1798.5 L1197.0 1798.5 L1198.0 1798.5 L1199.0 1798.5 L1200.0 1798.5 L1201.0 1798.5 L1202.0 1798.5 L1203.0 1798.5 L1204.0 1798.5 L1205.0 1798.5 L1206.0 1798.5 L1207.0 1798.5 L1208.0 1798.5 L1209.0 1798.5 L1210.0 1798.5 L1211.0 1798.5 L1212.0 1798.5 L1213.0 1798.5 L1214.0 1798.5 L1215.0 1798.5 L1216.0 1798.5 L1217.0 1798.5 L1218.0 1798.5 L1219.0 1798.5 L1220.0 1798.5 L1221.0 1798.5 L1222.0 1798.5 L1223.0 1798.5 L1224.0 1798.5 L1225.0 1798.5 L1226.0 1798.5 L1227.0 1798.5 L1228.0 1798.5 L1229.0 1798.5 L1230.0 1798.5 L1231.0 1798.5 L1232.0 1798.5 L1233.0 1798.5 L1234.0 1798.5 L1235.0 1798.5 L1236.0 1798.5 L1237.0 1798.5 L1238.0 1798.5 L1239.0 1798.5 L1240.0 1798.5 L1241.0 1798.5 L1242.0 1798.5 L1243.0 1798.5 L1244.0 1798.5 L1245.0 1798.5 L1246.0 1798.5 L1247.0 1798.5 L1248.0 1798.5 L1249.0 1798.5 L1250.0 1798.5 L1251.0 1798.5 L1252.0 1798.5 L1253.0 1798.5 L1254.0 1798.5 L1255.0 1798.5 L1256.0 1798.5 L1257.0 1798.5 L1258.0 1798.5 L1259.0 1798.5 L1260.0 1798.5 L1261.0 1798.5 L1262.0 1798.5 L1263.0 1798.5 L1264.0 1798.5 L1265.0 1798.5 L1266.0 1798.5 L1267.0 1798.5 L1268.0 1798.5 L1269.0 1798.5 L1270.0 1798.5 L1271.0 1798.5 L1272.0 1798.5 L1273.0 1798.5 L1274.0 1798.5 L1275.0 1798.5 L1276.0 1798.5 L1277.0 1798.5 L1278.0 1798.5 L1279.0 1798.5 L1280.0 1798.5 L1281.0 1798.5 L1282.0 1798.5 L1283.0 1798.5 L1284.0 1798.5 L1285.0 1798.5 L1286.0 1798.5 L1287.0 1798.5 L1288.0 1798.5 L1289.0 1798.5 L1290.0 1798.5 L1291.0 1798.5 L1292.0 1798.5 L1293.0 1798.5 L1294.0 1798.5 L1295.0 1798.5 L1296.0 1798.5 L1297.0 1798.5 L1298.0 1798.5 L1299.0 1798.5 L1300.0 1798.5 L1300 1799 Z" fill="#dc0505"/>
<path d="M207.5 1798 L208.6 1793 L209.8 1786 L211 1763 L212 1742 L213 1724 L214.5 1717 L216.8 1711.5 L218 1716 L219.5 1724 L221.6 1736 L223 1742 L224.8 1747 L226 1760 L227 1772 L228.2 1783 L229.3 1790 L231 1798 Z" fill="#dc0505"/>
<rect x="73.50" y="1297.00" width="39.50" height="42.20" fill="#9f3fff" />
<text x="84.70" y="1327.10" font-size="28.5" fill="#ffffff" font-family='"Liberation Sans", sans-serif' textLength="22.10" lengthAdjust="spacingAndGlyphs" opacity="0.85">Ti</text>
<rect x="85.50" y="1345.00" width="37.10" height="40.00" fill="#ff9f3f" />
<text x="95.60" y="1373.40" font-size="27.5" fill="#5a2c05" font-family='"Liberation Sans", sans-serif' textLength="21.10" lengthAdjust="spacingAndGlyphs" opacity="0.5">O</text>
<rect x="76.50" y="1390.80" width="36.50" height="42.20" fill="#ff3fff" />
<text x="87.00" y="1419.70" font-size="27.5" fill="#640a64" font-family='"Liberation Sans", sans-serif' textLength="18.80" lengthAdjust="spacingAndGlyphs" opacity="0.6">N</text>
<rect x="73.50" y="1439.00" width="27.80" height="40.30" fill="#ff3fff" />
<text x="79.70" y="1468.20" font-size="27.5" fill="#640a64" font-family='"Liberation Sans", sans-serif' textLength="16.30" lengthAdjust="spacingAndGlyphs" opacity="0.5">C</text>
<rect x="116.00" y="1439.00" width="46.50" height="40.30" fill="#3fff9f" />
<text x="126.40" y="1467.00" font-size="26" fill="#0a7840" font-family='"Liberation Sans", sans-serif' textLength="28.30" lengthAdjust="spacingAndGlyphs" opacity="0.5">Zn</text>
<rect x="367.00" y="1438.70" width="40.00" height="40.80" fill="#9f3fff" />
<text x="378.20" y="1467.00" font-size="27" fill="#ffffff" font-family='"Liberation Sans", sans-serif' textLength="23.10" lengthAdjust="spacingAndGlyphs" opacity="0.8">Ti</text>
<rect x="658.50" y="1438.70" width="47.00" height="40.80" fill="#3fff9f" />
<text x="668.20" y="1467.00" font-size="26" fill="#0a7840" font-family='"Liberation Sans", sans-serif' textLength="28.60" lengthAdjust="spacingAndGlyphs" opacity="0.45">Zn</text>
<rect x="61.00" y="1011.00" width="763.50" height="3.50" fill="#222" />
<rect x="1486.80" y="1010.50" width="4.70" height="790.10" fill="#222" />
<rect x="61.00" y="1797.50" width="1430.50" height="3.20" fill="#222" />
<rect x="70.50" y="1011.00" width="3.50" height="789.60" fill="#222" />
<rect x="61.00" y="1797.60" width="10.00" height="2.80" fill="#222" />
<rect x="61.00" y="1772.24" width="10.00" height="2.80" fill="#222" />
<rect x="61.00" y="1746.89" width="10.00" height="2.80" fill="#222" />
<rect x="61.00" y="1721.53" width="10.00" height="2.80" fill="#222" />
<rect x="61.00" y="1696.18" width="10.00" height="2.80" fill="#222" />
<rect x="61.00" y="1670.82" width="10.00" height="2.80" fill="#222" />
<rect x="61.00" y="1645.47" width="10.00" height="2.80" fill="#222" />
<rect x="61.00" y="1620.11" width="10.00" height="2.80" fill="#222" />
<rect x="61.00" y="1594.76" width="10.00" height="2.80" fill="#222" />
<rect x="61.00" y="1569.40" width="10.00" height="2.80" fill="#222" />
<rect x="61.00" y="1544.05" width="10.00" height="2.80" fill="#222" />
<rect x="61.00" y="1518.69" width="10.00" height="2.80" fill="#222" />
<rect x="61.00" y="1493.34" width="10.00" height="2.80" fill="#222" />
<rect x="61.00" y="1467.98" width="10.00" height="2.80" fill="#222" />
<rect x="61.00" y="1442.63" width="10.00" height="2.80" fill="#222" />
<rect x="61.00" y="1417.27" width="10.00" height="2.80" fill="#222" />
<rect x="61.00" y="1391.92" width="10.00" height="2.80" fill="#222" />
<rect x="61.00" y="1366.56" width="10.00" height="2.80" fill="#222" />
<rect x="61.00" y="1341.21" width="10.00" height="2.80" fill="#222" />
<rect x="61.00" y="1315.85" width="10.00" height="2.80" fill="#222" />
<rect x="61.00" y="1290.50" width="10.00" height="2.80" fill="#222" />
<rect x="61.00" y="1265.14" width="10.00" height="2.80" fill="#222" />
<rect x="61.00" y="1239.79" width="10.00" height="2.80" fill="#222" />
<rect x="61.00" y="1214.43" width="10.00" height="2.80" fill="#222" />
<rect x="61.00" y="1189.08" width="10.00" height="2.80" fill="#222" />
<rect x="61.00" y="1163.72" width="10.00" height="2.80" fill="#222" />
<rect x="61.00" y="1138.37" width="10.00" height="2.80" fill="#222" />
<rect x="61.00" y="1113.01" width="10.00" height="2.80" fill="#222" />
<rect x="61.00" y="1087.66" width="10.00" height="2.80" fill="#222" />
<rect x="61.00" y="1062.30" width="10.00" height="2.80" fill="#222" />
<rect x="61.00" y="1036.95" width="10.00" height="2.80" fill="#222" />
<text x="54.50" y="1812.20" font-size="34.5" fill="#1c1c1c" font-family='"Liberation Sans", sans-serif' text-anchor="end" textLength="46.50" lengthAdjust="spacingAndGlyphs" stroke="#1c1c1c" stroke-width="0.35" >0.0</text>
<text x="54.50" y="1710.78" font-size="34.5" fill="#1c1c1c" font-family='"Liberation Sans", sans-serif' text-anchor="end" textLength="46.50" lengthAdjust="spacingAndGlyphs" stroke="#1c1c1c" stroke-width="0.35" >0.2</text>
<text x="54.50" y="1609.36" font-size="34.5" fill="#1c1c1c" font-family='"Liberation Sans", sans-serif' text-anchor="end" textLength="46.50" lengthAdjust="spacingAndGlyphs" stroke="#1c1c1c" stroke-width="0.35" >0.4</text>
<text x="54.50" y="1507.94" font-size="34.5" fill="#1c1c1c" font-family='"Liberation Sans", sans-serif' text-anchor="end" textLength="46.50" lengthAdjust="spacingAndGlyphs" stroke="#1c1c1c" stroke-width="0.35" >0.6</text>
<text x="54.50" y="1406.52" font-size="34.5" fill="#1c1c1c" font-family='"Liberation Sans", sans-serif' text-anchor="end" textLength="46.50" lengthAdjust="spacingAndGlyphs" stroke="#1c1c1c" stroke-width="0.35" >0.8</text>
<text x="54.50" y="1305.10" font-size="34.5" fill="#1c1c1c" font-family='"Liberation Sans", sans-serif' text-anchor="end" textLength="46.50" lengthAdjust="spacingAndGlyphs" stroke="#1c1c1c" stroke-width="0.35" >1.0</text>
<text x="54.50" y="1203.68" font-size="34.5" fill="#1c1c1c" font-family='"Liberation Sans", sans-serif' text-anchor="end" textLength="46.50" lengthAdjust="spacingAndGlyphs" stroke="#1c1c1c" stroke-width="0.35" >1.2</text>
<text x="54.50" y="1102.26" font-size="34.5" fill="#1c1c1c" font-family='"Liberation Sans", sans-serif' text-anchor="end" textLength="46.50" lengthAdjust="spacingAndGlyphs" stroke="#1c1c1c" stroke-width="0.35" >1.4</text>
<rect x="99.78" y="1800.00" width="2.60" height="10.00" fill="#3a3a3a" />
<rect x="135.35" y="1800.00" width="2.60" height="10.00" fill="#3a3a3a" />
<rect x="170.93" y="1800.00" width="2.60" height="10.00" fill="#3a3a3a" />
<rect x="206.10" y="1800.00" width="3.40" height="17.50" fill="#222" />
<rect x="242.07" y="1800.00" width="2.60" height="10.00" fill="#3a3a3a" />
<rect x="277.65" y="1800.00" width="2.60" height="10.00" fill="#3a3a3a" />
<rect x="313.23" y="1800.00" width="2.60" height="10.00" fill="#3a3a3a" />
<rect x="348.40" y="1800.00" width="3.40" height="17.50" fill="#222" />
<rect x="384.38" y="1800.00" width="2.60" height="10.00" fill="#3a3a3a" />
<rect x="419.95" y="1800.00" width="2.60" height="10.00" fill="#3a3a3a" />
<rect x="455.53" y="1800.00" width="2.60" height="10.00" fill="#3a3a3a" />
<rect x="490.70" y="1800.00" width="3.40" height="17.50" fill="#222" />
<rect x="526.68" y="1800.00" width="2.60" height="10.00" fill="#3a3a3a" />
<rect x="562.25" y="1800.00" width="2.60" height="10.00" fill="#3a3a3a" />
<rect x="597.83" y="1800.00" width="2.60" height="10.00" fill="#3a3a3a" />
<rect x="633.00" y="1800.00" width="3.40" height="17.50" fill="#222" />
<rect x="668.98" y="1800.00" width="2.60" height="10.00" fill="#3a3a3a" />
<rect x="704.55" y="1800.00" width="2.60" height="10.00" fill="#3a3a3a" />
<rect x="740.13" y="1800.00" width="2.60" height="10.00" fill="#3a3a3a" />
<rect x="775.30" y="1800.00" width="3.40" height="17.50" fill="#222" />
<rect x="811.28" y="1800.00" width="2.60" height="10.00" fill="#3a3a3a" />
<rect x="846.85" y="1800.00" width="2.60" height="10.00" fill="#3a3a3a" />
<rect x="882.43" y="1800.00" width="2.60" height="10.00" fill="#3a3a3a" />
<rect x="917.60" y="1800.00" width="3.40" height="17.50" fill="#222" />
<rect x="953.58" y="1800.00" width="2.60" height="10.00" fill="#3a3a3a" />
<rect x="989.15" y="1800.00" width="2.60" height="10.00" fill="#3a3a3a" />
<rect x="1024.73" y="1800.00" width="2.60" height="10.00" fill="#3a3a3a" />
<rect x="1059.90" y="1800.00" width="3.40" height="17.50" fill="#222" />
<rect x="1095.88" y="1800.00" width="2.60" height="10.00" fill="#3a3a3a" />
<rect x="1131.45" y="1800.00" width="2.60" height="10.00" fill="#3a3a3a" />
<rect x="1167.03" y="1800.00" width="2.60" height="10.00" fill="#3a3a3a" />
<rect x="1202.20" y="1800.00" width="3.40" height="17.50" fill="#222" />
<rect x="1238.18" y="1800.00" width="2.60" height="10.00" fill="#3a3a3a" />
<rect x="1273.75" y="1800.00" width="2.60" height="10.00" fill="#3a3a3a" />
<rect x="1309.33" y="1800.00" width="2.60" height="10.00" fill="#3a3a3a" />
<rect x="1344.50" y="1800.00" width="3.40" height="17.50" fill="#222" />
<rect x="1380.48" y="1800.00" width="2.60" height="10.00" fill="#3a3a3a" />
<rect x="1416.05" y="1800.00" width="2.60" height="10.00" fill="#3a3a3a" />
<rect x="1451.63" y="1800.00" width="2.60" height="10.00" fill="#3a3a3a" />
<rect x="1486.80" y="1800.00" width="3.40" height="17.50" fill="#222" />
<text x="208.30" y="1854.20" font-size="36" fill="#1c1c1c" font-family='"Liberation Sans", sans-serif' text-anchor="middle" stroke="#1c1c1c" stroke-width="0.35" >2</text>
<text x="350.60" y="1854.20" font-size="36" fill="#1c1c1c" font-family='"Liberation Sans", sans-serif' text-anchor="middle" stroke="#1c1c1c" stroke-width="0.35" >4</text>
<text x="492.90" y="1854.20" font-size="36" fill="#1c1c1c" font-family='"Liberation Sans", sans-serif' text-anchor="middle" stroke="#1c1c1c" stroke-width="0.35" >6</text>
<text x="635.20" y="1854.20" font-size="36" fill="#1c1c1c" font-family='"Liberation Sans", sans-serif' text-anchor="middle" stroke="#1c1c1c" stroke-width="0.35" >8</text>
<text x="777.50" y="1854.20" font-size="36" fill="#1c1c1c" font-family='"Liberation Sans", sans-serif' text-anchor="middle" stroke="#1c1c1c" stroke-width="0.35" >10</text>
<text x="919.80" y="1854.20" font-size="36" fill="#1c1c1c" font-family='"Liberation Sans", sans-serif' text-anchor="middle" stroke="#1c1c1c" stroke-width="0.35" >12</text>
<text x="1062.10" y="1854.20" font-size="36" fill="#1c1c1c" font-family='"Liberation Sans", sans-serif' text-anchor="middle" stroke="#1c1c1c" stroke-width="0.35" >14</text>
<text x="1204.40" y="1854.20" font-size="36" fill="#1c1c1c" font-family='"Liberation Sans", sans-serif' text-anchor="middle" stroke="#1c1c1c" stroke-width="0.35" >16</text>
<text x="1346.70" y="1854.20" font-size="36" fill="#1c1c1c" font-family='"Liberation Sans", sans-serif' text-anchor="middle" stroke="#1c1c1c" stroke-width="0.35" >18</text>
<text x="1495.50" y="1854.20" font-size="36" fill="#1c1c1c" font-family='"Liberation Sans", sans-serif' text-anchor="end" stroke="#1c1c1c" stroke-width="0.35" >20</text>
<text x="685.10" y="1899.70" font-size="36" fill="#1c1c1c" font-family='"Liberation Sans", sans-serif' textLength="190.50" lengthAdjust="spacingAndGlyphs" stroke="#1c1c1c" stroke-width="0.35" >Energy [keV]</text>
<text x="102.2" y="1110.6" font-size="77" font-weight="bold" fill="#000" stroke="#000" stroke-width="0.9" font-family='"Liberation Serif", serif' textLength="250" lengthAdjust="spacingAndGlyphs">TiO<tspan font-size="54">2</tspan>/ZnO</text>
<rect x="836.20" y="19.00" width="621.80" height="116.00" fill="#dadada" />
<rect x="836.20" y="134.00" width="71.50" height="373.30" fill="#dadada" />
<rect x="862.4" y="12.8" width="2" height="2.4" fill="#333"/>
<text x="839.70" y="92.30" font-size="38.3" fill="#1a1a1a" font-family='"Liberation Sans", sans-serif' textLength="65.00" lengthAdjust="spacingAndGlyphs" stroke="#1a1a1a" stroke-width="0.9" >Element</text>
<text x="910.90" y="92.30" font-size="38.3" fill="#1a1a1a" font-family='"Liberation Sans", sans-serif' textLength="22.90" lengthAdjust="spacingAndGlyphs" stroke="#1a1a1a" stroke-width="0.9" >At.</text>
<text x="938.90" y="92.30" font-size="38.3" fill="#1a1a1a" font-family='"Liberation Sans", sans-serif' textLength="27.40" lengthAdjust="spacingAndGlyphs" stroke="#1a1a1a" stroke-width="0.9" >No.</text>
<text x="973.40" y="92.30" font-size="38.3" fill="#1a1a1a" font-family='"Liberation Sans", sans-serif' textLength="44.80" lengthAdjust="spacingAndGlyphs" stroke="#1a1a1a" stroke-width="0.9" >Netto</text>
<text x="1026.40" y="61.50" font-size="38.3" fill="#1a1a1a" font-family='"Liberation Sans", sans-serif' textLength="40.80" lengthAdjust="spacingAndGlyphs" stroke="#1a1a1a" stroke-width="0.9" >Mass</text>
<text x="1034.70" y="120.00" font-size="38.3" fill="#1a1a1a" font-family='"Liberation Sans", sans-serif' textLength="24.50" lengthAdjust="spacingAndGlyphs" stroke="#1a1a1a" stroke-width="0.9" >[%]</text>
<text x="1076.70" y="61.50" font-size="38.3" fill="#1a1a1a" font-family='"Liberation Sans", sans-serif' textLength="94.60" lengthAdjust="spacingAndGlyphs" stroke="#1a1a1a" stroke-width="0.9" >Mass Norm.</text>
<text x="1111.70" y="120.00" font-size="38.3" fill="#1a1a1a" font-family='"Liberation Sans", sans-serif' textLength="24.00" lengthAdjust="spacingAndGlyphs" stroke="#1a1a1a" stroke-width="0.9" >[%]</text>
<text x="1183.30" y="61.50" font-size="38.3" fill="#1a1a1a" font-family='"Liberation Sans", sans-serif' textLength="44.00" lengthAdjust="spacingAndGlyphs" stroke="#1a1a1a" stroke-width="0.9" >Atom</text>
<text x="1193.20" y="120.00" font-size="38.3" fill="#1a1a1a" font-family='"Liberation Sans", sans-serif' textLength="25.30" lengthAdjust="spacingAndGlyphs" stroke="#1a1a1a" stroke-width="0.9" >[%]</text>
<text x="1238.90" y="61.50" font-size="38.3" fill="#1a1a1a" font-family='"Liberation Sans", sans-serif' textLength="107.40" lengthAdjust="spacingAndGlyphs" stroke="#1a1a1a" stroke-width="0.9" >abs. error [%]</text>
<text x="1257.20" y="120.00" font-size="38.3" fill="#1a1a1a" font-family='"Liberation Sans", sans-serif' textLength="72.70" lengthAdjust="spacingAndGlyphs" stroke="#1a1a1a" stroke-width="0.9" >(1 sigma)</text>
<text x="1353.70" y="61.50" font-size="38.3" fill="#1a1a1a" font-family='"Liberation Sans", sans-serif' textLength="100.70" lengthAdjust="spacingAndGlyphs" stroke="#1a1a1a" stroke-width="0.9" >rel. error [%]</text>
<text x="1367.40" y="120.00" font-size="38.3" fill="#1a1a1a" font-family='"Liberation Sans", sans-serif' textLength="73.30" lengthAdjust="spacingAndGlyphs" stroke="#1a1a1a" stroke-width="0.9" >(1 sigma)</text>
<text x="839.60" y="182.00" font-size="38.3" fill="#1a1a1a" font-family='"Liberation Sans", sans-serif' textLength="32.00" lengthAdjust="spacingAndGlyphs" stroke="#1a1a1a" stroke-width="0.9" >Zinc</text>
<text x="966.50" y="182.00" font-size="38.3" fill="#1a1a1a" font-family='"Liberation Sans", sans-serif' text-anchor="end" textLength="19.90" lengthAdjust="spacingAndGlyphs" stroke="#1a1a1a" stroke-width="0.9" >30</text>
<text x="1019.00" y="182.00" font-size="38.3" fill="#1a1a1a" font-family='"Liberation Sans", sans-serif' text-anchor="end" textLength="39.80" lengthAdjust="spacingAndGlyphs" stroke="#1a1a1a" stroke-width="0.9" >1320</text>
<text x="1069.30" y="182.00" font-size="38.3" fill="#1a1a1a" font-family='"Liberation Sans", sans-serif' text-anchor="end" textLength="34.82" lengthAdjust="spacingAndGlyphs" stroke="#1a1a1a" stroke-width="0.9" >8.27</text>
<text x="1172.00" y="182.00" font-size="38.3" fill="#1a1a1a" font-family='"Liberation Sans", sans-serif' text-anchor="end" textLength="44.77" lengthAdjust="spacingAndGlyphs" stroke="#1a1a1a" stroke-width="0.9" >48.71</text>
<text x="1233.30" y="182.00" font-size="38.3" fill="#1a1a1a" font-family='"Liberation Sans", sans-serif' text-anchor="end" textLength="44.77" lengthAdjust="spacingAndGlyphs" stroke="#1a1a1a" stroke-width="0.9" >22.41</text>
<text x="1347.00" y="182.00" font-size="38.3" fill="#1a1a1a" font-family='"Liberation Sans", sans-serif' text-anchor="end" textLength="34.82" lengthAdjust="spacingAndGlyphs" stroke="#1a1a1a" stroke-width="0.9" >0.36</text>
<text x="1454.30" y="182.00" font-size="38.3" fill="#1a1a1a" font-family='"Liberation Sans", sans-serif' text-anchor="end" textLength="34.82" lengthAdjust="spacingAndGlyphs" stroke="#1a1a1a" stroke-width="0.9" >4.40</text>
<text x="839.60" y="244.20" font-size="38.3" fill="#1a1a1a" font-family='"Liberation Sans", sans-serif' textLength="66.50" lengthAdjust="spacingAndGlyphs" stroke="#1a1a1a" stroke-width="0.9" >Chlorine</text>
<text x="966.50" y="244.20" font-size="38.3" fill="#1a1a1a" font-family='"Liberation Sans", sans-serif' text-anchor="end" textLength="19.90" lengthAdjust="spacingAndGlyphs" stroke="#1a1a1a" stroke-width="0.9" >17</text>
<text x="1019.00" y="244.20" font-size="38.3" fill="#1a1a1a" font-family='"Liberation Sans", sans-serif' text-anchor="end" textLength="39.80" lengthAdjust="spacingAndGlyphs" stroke="#1a1a1a" stroke-width="0.9" >1833</text>
<text x="1069.30" y="244.20" font-size="38.3" fill="#1a1a1a" font-family='"Liberation Sans", sans-serif' text-anchor="end" textLength="34.82" lengthAdjust="spacingAndGlyphs" stroke="#1a1a1a" stroke-width="0.9" >4.04</text>
<text x="1172.00" y="244.20" font-size="38.3" fill="#1a1a1a" font-family='"Liberation Sans", sans-serif' text-anchor="end" textLength="44.77" lengthAdjust="spacingAndGlyphs" stroke="#1a1a1a" stroke-width="0.9" >23.80</text>
<text x="1233.30" y="244.20" font-size="38.3" fill="#1a1a1a" font-family='"Liberation Sans", sans-serif' text-anchor="end" textLength="44.77" lengthAdjust="spacingAndGlyphs" stroke="#1a1a1a" stroke-width="0.9" >20.20</text>
<text x="1347.00" y="244.20" font-size="38.3" fill="#1a1a1a" font-family='"Liberation Sans", sans-serif' text-anchor="end" textLength="34.82" lengthAdjust="spacingAndGlyphs" stroke="#1a1a1a" stroke-width="0.9" >0.20</text>
<text x="1454.30" y="244.20" font-size="38.3" fill="#1a1a1a" font-family='"Liberation Sans", sans-serif' text-anchor="end" textLength="34.82" lengthAdjust="spacingAndGlyphs" stroke="#1a1a1a" stroke-width="0.9" >5.04</text>
<text x="839.60" y="305.20" font-size="38.3" fill="#1a1a1a" font-family='"Liberation Sans", sans-serif' textLength="57.00" lengthAdjust="spacingAndGlyphs" stroke="#1a1a1a" stroke-width="0.9" >Carbon</text>
<text x="966.50" y="305.20" font-size="38.3" fill="#ff1010" font-family='"Liberation Sans", sans-serif' text-anchor="end" textLength="9.95" lengthAdjust="spacingAndGlyphs" stroke="#ff1010" stroke-width="0.9" >6</text>
<text x="1019.00" y="305.20" font-size="38.3" fill="#ff1010" font-family='"Liberation Sans", sans-serif' text-anchor="end" textLength="29.85" lengthAdjust="spacingAndGlyphs" stroke="#ff1010" stroke-width="0.9" >129</text>
<text x="1069.30" y="305.20" font-size="38.3" fill="#ff1010" font-family='"Liberation Sans", sans-serif' text-anchor="end" textLength="34.82" lengthAdjust="spacingAndGlyphs" stroke="#ff1010" stroke-width="0.9" >3.21</text>
<text x="1172.00" y="305.20" font-size="38.3" fill="#ff1010" font-family='"Liberation Sans", sans-serif' text-anchor="end" textLength="44.77" lengthAdjust="spacingAndGlyphs" stroke="#ff1010" stroke-width="0.9" >18.91</text>
<text x="1233.30" y="305.20" font-size="38.3" fill="#ff1010" font-family='"Liberation Sans", sans-serif' text-anchor="end" textLength="44.77" lengthAdjust="spacingAndGlyphs" stroke="#ff1010" stroke-width="0.9" >47.36</text>
<text x="1347.00" y="305.20" font-size="38.3" fill="#ff1010" font-family='"Liberation Sans", sans-serif' text-anchor="end" textLength="34.82" lengthAdjust="spacingAndGlyphs" stroke="#ff1010" stroke-width="0.9" >1.48</text>
<text x="1454.30" y="305.20" font-size="38.3" fill="#ff1010" font-family='"Liberation Sans", sans-serif' text-anchor="end" textLength="44.77" lengthAdjust="spacingAndGlyphs" stroke="#ff1010" stroke-width="0.9" >46.04</text>
<text x="839.60" y="365.90" font-size="38.3" fill="#1a1a1a" font-family='"Liberation Sans", sans-serif' textLength="62.00" lengthAdjust="spacingAndGlyphs" stroke="#1a1a1a" stroke-width="0.9" >Calcium</text>
<text x="966.50" y="365.90" font-size="38.3" fill="#1a1a1a" font-family='"Liberation Sans", sans-serif' text-anchor="end" textLength="19.90" lengthAdjust="spacingAndGlyphs" stroke="#1a1a1a" stroke-width="0.9" >20</text>
<text x="1019.00" y="365.90" font-size="38.3" fill="#1a1a1a" font-family='"Liberation Sans", sans-serif' text-anchor="end" textLength="29.85" lengthAdjust="spacingAndGlyphs" stroke="#1a1a1a" stroke-width="0.9" >275</text>
<text x="1069.30" y="365.90" font-size="38.3" fill="#1a1a1a" font-family='"Liberation Sans", sans-serif' text-anchor="end" textLength="34.82" lengthAdjust="spacingAndGlyphs" stroke="#1a1a1a" stroke-width="0.9" >0.92</text>
<text x="1172.00" y="365.90" font-size="38.3" fill="#1a1a1a" font-family='"Liberation Sans", sans-serif' text-anchor="end" textLength="34.82" lengthAdjust="spacingAndGlyphs" stroke="#1a1a1a" stroke-width="0.9" >5.42</text>
<text x="1233.30" y="365.90" font-size="38.3" fill="#1a1a1a" font-family='"Liberation Sans", sans-serif' text-anchor="end" textLength="34.82" lengthAdjust="spacingAndGlyphs" stroke="#1a1a1a" stroke-width="0.9" >4.07</text>
<text x="1347.00" y="365.90" font-size="38.3" fill="#1a1a1a" font-family='"Liberation Sans", sans-serif' text-anchor="end" textLength="34.82" lengthAdjust="spacingAndGlyphs" stroke="#1a1a1a" stroke-width="0.9" >0.09</text>
<text x="1454.30" y="365.90" font-size="38.3" fill="#1a1a1a" font-family='"Liberation Sans", sans-serif' text-anchor="end" textLength="34.82" lengthAdjust="spacingAndGlyphs" stroke="#1a1a1a" stroke-width="0.9" >9.98</text>
<text x="839.60" y="427.40" font-size="38.3" fill="#1a1a1a" font-family='"Liberation Sans", sans-serif' textLength="59.00" lengthAdjust="spacingAndGlyphs" stroke="#1a1a1a" stroke-width="0.9" >Oxygen</text>
<text x="966.50" y="427.40" font-size="38.3" fill="#ff1010" font-family='"Liberation Sans", sans-serif' text-anchor="end" textLength="9.95" lengthAdjust="spacingAndGlyphs" stroke="#ff1010" stroke-width="0.9" >8</text>
<text x="1019.00" y="427.40" font-size="38.3" fill="#ff1010" font-family='"Liberation Sans", sans-serif' text-anchor="end" textLength="19.90" lengthAdjust="spacingAndGlyphs" stroke="#ff1010" stroke-width="0.9" >61</text>
<text x="1069.30" y="427.40" font-size="38.3" fill="#ff1010" font-family='"Liberation Sans", sans-serif' text-anchor="end" textLength="34.82" lengthAdjust="spacingAndGlyphs" stroke="#ff1010" stroke-width="0.9" >0.54</text>
<text x="1172.00" y="427.40" font-size="38.3" fill="#ff1010" font-family='"Liberation Sans", sans-serif' text-anchor="end" textLength="34.82" lengthAdjust="spacingAndGlyphs" stroke="#ff1010" stroke-width="0.9" >3.17</text>
<text x="1233.30" y="427.40" font-size="38.3" fill="#ff1010" font-family='"Liberation Sans", sans-serif' text-anchor="end" textLength="34.82" lengthAdjust="spacingAndGlyphs" stroke="#ff1010" stroke-width="0.9" >5.96</text>
<text x="1347.00" y="427.40" font-size="38.3" fill="#ff1010" font-family='"Liberation Sans", sans-serif' text-anchor="end" textLength="34.82" lengthAdjust="spacingAndGlyphs" stroke="#ff1010" stroke-width="0.9" >0.36</text>
<text x="1454.30" y="427.40" font-size="38.3" fill="#ff1010" font-family='"Liberation Sans", sans-serif' text-anchor="end" textLength="44.77" lengthAdjust="spacingAndGlyphs" stroke="#ff1010" stroke-width="0.9" >66.03</text>
<text x="1019.00" y="489.00" font-size="38.3" fill="#000" font-family='"Liberation Sans", sans-serif' text-anchor="end" textLength="34.50" lengthAdjust="spacingAndGlyphs" font-weight="bold" stroke="#000" stroke-width="0.54" >Sum</text>
<text x="1069.30" y="489.00" font-size="38.3" fill="#000" font-family='"Liberation Sans", sans-serif' text-anchor="end" textLength="44.77" lengthAdjust="spacingAndGlyphs" font-weight="bold" stroke="#000" stroke-width="0.54" >16.98</text>
<text x="1172.00" y="489.00" font-size="38.3" fill="#000" font-family='"Liberation Sans", sans-serif' text-anchor="end" textLength="54.72" lengthAdjust="spacingAndGlyphs" font-weight="bold" stroke="#000" stroke-width="0.54" >100.00</text>
<text x="1233.30" y="489.00" font-size="38.3" fill="#000" font-family='"Liberation Sans", sans-serif' text-anchor="end" textLength="54.72" lengthAdjust="spacingAndGlyphs" font-weight="bold" stroke="#000" stroke-width="0.54" >100.00</text>
<rect x="835.30" y="1012.40" width="621.50" height="95.20" fill="#dadada" />
<rect x="835.30" y="1106.60" width="77.20" height="309.40" fill="#dadada" />
<rect x="863" y="1009.5" width="2" height="2.4" fill="#333"/>
<text x="841.30" y="1074.90" font-size="31.5" fill="#1a1a1a" font-family='"Liberation Sans", sans-serif' textLength="65.70" lengthAdjust="spacingAndGlyphs" stroke="#1a1a1a" stroke-width="0.9" >Element</text>
<text x="915.50" y="1074.90" font-size="31.5" fill="#1a1a1a" font-family='"Liberation Sans", sans-serif' textLength="21.20" lengthAdjust="spacingAndGlyphs" stroke="#1a1a1a" stroke-width="0.9" >At.</text>
<text x="944.10" y="1074.90" font-size="31.5" fill="#1a1a1a" font-family='"Liberation Sans", sans-serif' textLength="26.10" lengthAdjust="spacingAndGlyphs" stroke="#1a1a1a" stroke-width="0.9" >No.</text>
<text x="977.10" y="1074.90" font-size="31.5" fill="#1a1a1a" font-family='"Liberation Sans", sans-serif' textLength="44.90" lengthAdjust="spacingAndGlyphs" stroke="#1a1a1a" stroke-width="0.9" >Netto</text>
<text x="1028.90" y="1049.40" font-size="31.5" fill="#1a1a1a" font-family='"Liberation Sans", sans-serif' textLength="40.80" lengthAdjust="spacingAndGlyphs" stroke="#1a1a1a" stroke-width="0.9" >Mass</text>
<text x="1036.60" y="1095.80" font-size="31.5" fill="#1a1a1a" font-family='"Liberation Sans", sans-serif' textLength="25.00" lengthAdjust="spacingAndGlyphs" stroke="#1a1a1a" stroke-width="0.9" >[%]</text>
<text x="1076.70" y="1049.40" font-size="31.5" fill="#1a1a1a" font-family='"Liberation Sans", sans-serif' textLength="94.60" lengthAdjust="spacingAndGlyphs" stroke="#1a1a1a" stroke-width="0.9" >Mass Norm.</text>
<text x="1111.50" y="1095.80" font-size="31.5" fill="#1a1a1a" font-family='"Liberation Sans", sans-serif' textLength="24.60" lengthAdjust="spacingAndGlyphs" stroke="#1a1a1a" stroke-width="0.9" >[%]</text>
<text x="1183.30" y="1049.40" font-size="31.5" fill="#1a1a1a" font-family='"Liberation Sans", sans-serif' textLength="43.50" lengthAdjust="spacingAndGlyphs" stroke="#1a1a1a" stroke-width="0.9" >Atom</text>
<text x="1193.20" y="1095.80" font-size="31.5" fill="#1a1a1a" font-family='"Liberation Sans", sans-serif' textLength="25.30" lengthAdjust="spacingAndGlyphs" stroke="#1a1a1a" stroke-width="0.9" >[%]</text>
<text x="1238.90" y="1049.40" font-size="31.5" fill="#1a1a1a" font-family='"Liberation Sans", sans-serif' textLength="107.40" lengthAdjust="spacingAndGlyphs" stroke="#1a1a1a" stroke-width="0.9" >abs. error [%]</text>
<text x="1256.70" y="1095.80" font-size="31.5" fill="#1a1a1a" font-family='"Liberation Sans", sans-serif' textLength="73.20" lengthAdjust="spacingAndGlyphs" stroke="#1a1a1a" stroke-width="0.9" >(1 sigma)</text>
<text x="1352.90" y="1049.40" font-size="31.5" fill="#1a1a1a" font-family='"Liberation Sans", sans-serif' textLength="100.90" lengthAdjust="spacingAndGlyphs" stroke="#1a1a1a" stroke-width="0.9" >rel. error [%]</text>
<text x="1366.60" y="1095.80" font-size="31.5" fill="#1a1a1a" font-family='"Liberation Sans", sans-serif' textLength="73.50" lengthAdjust="spacingAndGlyphs" stroke="#1a1a1a" stroke-width="0.9" >(1 sigma)</text>
<text x="839.60" y="1148.50" font-size="31.5" fill="#1a1a1a" font-family='"Liberation Sans", sans-serif' textLength="56.50" lengthAdjust="spacingAndGlyphs" stroke="#1a1a1a" stroke-width="0.9" >Carbon</text>
<text x="972.00" y="1148.50" font-size="31.5" fill="#ff1010" font-family='"Liberation Sans", sans-serif' text-anchor="end" textLength="9.75" lengthAdjust="spacingAndGlyphs" stroke="#ff1010" stroke-width="0.9" >6</text>
<text x="1022.00" y="1148.50" font-size="31.5" fill="#ff1010" font-family='"Liberation Sans", sans-serif' text-anchor="end" textLength="29.25" lengthAdjust="spacingAndGlyphs" stroke="#ff1010" stroke-width="0.9" >215</text>
<text x="1069.60" y="1148.50" font-size="31.5" fill="#ff1010" font-family='"Liberation Sans", sans-serif' text-anchor="end" textLength="34.12" lengthAdjust="spacingAndGlyphs" stroke="#ff1010" stroke-width="0.9" >0.47</text>
<text x="1172.00" y="1148.50" font-size="31.5" fill="#ff1010" font-family='"Liberation Sans", sans-serif' text-anchor="end" textLength="43.88" lengthAdjust="spacingAndGlyphs" stroke="#ff1010" stroke-width="0.9" >42.52</text>
<text x="1233.30" y="1148.50" font-size="31.5" fill="#ff1010" font-family='"Liberation Sans", sans-serif' text-anchor="end" textLength="43.88" lengthAdjust="spacingAndGlyphs" stroke="#ff1010" stroke-width="0.9" >55.85</text>
<text x="1347.00" y="1148.50" font-size="31.5" fill="#ff1010" font-family='"Liberation Sans", sans-serif' text-anchor="end" textLength="34.12" lengthAdjust="spacingAndGlyphs" stroke="#ff1010" stroke-width="0.9" >0.20</text>
<text x="1453.80" y="1148.50" font-size="31.5" fill="#ff1010" font-family='"Liberation Sans", sans-serif' text-anchor="end" textLength="43.88" lengthAdjust="spacingAndGlyphs" stroke="#ff1010" stroke-width="0.9" >42.55</text>
<text x="839.60" y="1199.50" font-size="31.5" fill="#1a1a1a" font-family='"Liberation Sans", sans-serif' textLength="69.50" lengthAdjust="spacingAndGlyphs" stroke="#1a1a1a" stroke-width="0.9" >Nitrogen</text>
<text x="972.00" y="1199.50" font-size="31.5" fill="#ff1010" font-family='"Liberation Sans", sans-serif' text-anchor="end" textLength="9.75" lengthAdjust="spacingAndGlyphs" stroke="#ff1010" stroke-width="0.9" >7</text>
<text x="1022.00" y="1199.50" font-size="31.5" fill="#ff1010" font-family='"Liberation Sans", sans-serif' text-anchor="end" textLength="19.50" lengthAdjust="spacingAndGlyphs" stroke="#ff1010" stroke-width="0.9" >42</text>
<text x="1069.60" y="1199.50" font-size="31.5" fill="#ff1010" font-family='"Liberation Sans", sans-serif' text-anchor="end" textLength="34.12" lengthAdjust="spacingAndGlyphs" stroke="#ff1010" stroke-width="0.9" >0.25</text>
<text x="1172.00" y="1199.50" font-size="31.5" fill="#ff1010" font-family='"Liberation Sans", sans-serif' text-anchor="end" textLength="43.88" lengthAdjust="spacingAndGlyphs" stroke="#ff1010" stroke-width="0.9" >22.31</text>
<text x="1233.30" y="1199.50" font-size="31.5" fill="#ff1010" font-family='"Liberation Sans", sans-serif' text-anchor="end" textLength="43.88" lengthAdjust="spacingAndGlyphs" stroke="#ff1010" stroke-width="0.9" >25.12</text>
<text x="1347.00" y="1199.50" font-size="31.5" fill="#ff1010" font-family='"Liberation Sans", sans-serif' text-anchor="end" textLength="34.12" lengthAdjust="spacingAndGlyphs" stroke="#ff1010" stroke-width="0.9" >0.20</text>
<text x="1453.80" y="1199.50" font-size="31.5" fill="#ff1010" font-family='"Liberation Sans", sans-serif' text-anchor="end" textLength="43.88" lengthAdjust="spacingAndGlyphs" stroke="#ff1010" stroke-width="0.9" >82.03</text>
<text x="839.60" y="1250.70" font-size="31.5" fill="#1a1a1a" font-family='"Liberation Sans", sans-serif' textLength="32.00" lengthAdjust="spacingAndGlyphs" stroke="#1a1a1a" stroke-width="0.9" >Zinc</text>
<text x="972.00" y="1250.70" font-size="31.5" fill="#1a1a1a" font-family='"Liberation Sans", sans-serif' text-anchor="end" textLength="19.50" lengthAdjust="spacingAndGlyphs" stroke="#1a1a1a" stroke-width="0.9" >30</text>
<text x="1022.00" y="1250.70" font-size="31.5" fill="#1a1a1a" font-family='"Liberation Sans", sans-serif' text-anchor="end" textLength="29.25" lengthAdjust="spacingAndGlyphs" stroke="#1a1a1a" stroke-width="0.9" >135</text>
<text x="1069.60" y="1250.70" font-size="31.5" fill="#1a1a1a" font-family='"Liberation Sans", sans-serif' text-anchor="end" textLength="34.12" lengthAdjust="spacingAndGlyphs" stroke="#1a1a1a" stroke-width="0.9" >0.19</text>
<text x="1172.00" y="1250.70" font-size="31.5" fill="#1a1a1a" font-family='"Liberation Sans", sans-serif' text-anchor="end" textLength="43.88" lengthAdjust="spacingAndGlyphs" stroke="#1a1a1a" stroke-width="0.9" >17.16</text>
<text x="1233.30" y="1250.70" font-size="31.5" fill="#1a1a1a" font-family='"Liberation Sans", sans-serif' text-anchor="end" textLength="34.12" lengthAdjust="spacingAndGlyphs" stroke="#1a1a1a" stroke-width="0.9" >4.14</text>
<text x="1347.00" y="1250.70" font-size="31.5" fill="#1a1a1a" font-family='"Liberation Sans", sans-serif' text-anchor="end" textLength="34.12" lengthAdjust="spacingAndGlyphs" stroke="#1a1a1a" stroke-width="0.9" >0.04</text>
<text x="1453.80" y="1250.70" font-size="31.5" fill="#1a1a1a" font-family='"Liberation Sans", sans-serif' text-anchor="end" textLength="43.88" lengthAdjust="spacingAndGlyphs" stroke="#1a1a1a" stroke-width="0.9" >22.61</text>
<text x="839.60" y="1301.50" font-size="31.5" fill="#1a1a1a" font-family='"Liberation Sans", sans-serif' textLength="58.50" lengthAdjust="spacingAndGlyphs" stroke="#1a1a1a" stroke-width="0.9" >Oxygen</text>
<text x="972.00" y="1301.50" font-size="31.5" fill="#ff1010" font-family='"Liberation Sans", sans-serif' text-anchor="end" textLength="9.75" lengthAdjust="spacingAndGlyphs" stroke="#ff1010" stroke-width="0.9" >8</text>
<text x="1022.00" y="1301.50" font-size="31.5" fill="#ff1010" font-family='"Liberation Sans", sans-serif' text-anchor="end" textLength="19.50" lengthAdjust="spacingAndGlyphs" stroke="#ff1010" stroke-width="0.9" >47</text>
<text x="1069.60" y="1301.50" font-size="31.5" fill="#ff1010" font-family='"Liberation Sans", sans-serif' text-anchor="end" textLength="34.12" lengthAdjust="spacingAndGlyphs" stroke="#ff1010" stroke-width="0.9" >0.15</text>
<text x="1172.00" y="1301.50" font-size="31.5" fill="#ff1010" font-family='"Liberation Sans", sans-serif' text-anchor="end" textLength="43.88" lengthAdjust="spacingAndGlyphs" stroke="#ff1010" stroke-width="0.9" >13.64</text>
<text x="1233.30" y="1301.50" font-size="31.5" fill="#ff1010" font-family='"Liberation Sans", sans-serif' text-anchor="end" textLength="43.88" lengthAdjust="spacingAndGlyphs" stroke="#ff1010" stroke-width="0.9" >13.45</text>
<text x="1347.00" y="1301.50" font-size="31.5" fill="#ff1010" font-family='"Liberation Sans", sans-serif' text-anchor="end" textLength="34.12" lengthAdjust="spacingAndGlyphs" stroke="#ff1010" stroke-width="0.9" >0.13</text>
<text x="1453.80" y="1301.50" font-size="31.5" fill="#ff1010" font-family='"Liberation Sans", sans-serif' text-anchor="end" textLength="43.88" lengthAdjust="spacingAndGlyphs" stroke="#ff1010" stroke-width="0.9" >84.53</text>
<text x="839.60" y="1351.60" font-size="31.5" fill="#1a1a1a" font-family='"Liberation Sans", sans-serif' textLength="70.00" lengthAdjust="spacingAndGlyphs" stroke="#1a1a1a" stroke-width="0.9" >Titanium</text>
<text x="972.00" y="1351.60" font-size="31.5" fill="#1a1a1a" font-family='"Liberation Sans", sans-serif' text-anchor="end" textLength="19.50" lengthAdjust="spacingAndGlyphs" stroke="#1a1a1a" stroke-width="0.9" >22</text>
<text x="1022.00" y="1351.60" font-size="31.5" fill="#1a1a1a" font-family='"Liberation Sans", sans-serif' text-anchor="end" textLength="19.50" lengthAdjust="spacingAndGlyphs" stroke="#1a1a1a" stroke-width="0.9" >30</text>
<text x="1069.60" y="1351.60" font-size="31.5" fill="#1a1a1a" font-family='"Liberation Sans", sans-serif' text-anchor="end" textLength="34.12" lengthAdjust="spacingAndGlyphs" stroke="#1a1a1a" stroke-width="0.9" >0.05</text>
<text x="1172.00" y="1351.60" font-size="31.5" fill="#1a1a1a" font-family='"Liberation Sans", sans-serif' text-anchor="end" textLength="34.12" lengthAdjust="spacingAndGlyphs" stroke="#1a1a1a" stroke-width="0.9" >4.37</text>
<text x="1233.30" y="1351.60" font-size="31.5" fill="#1a1a1a" font-family='"Liberation Sans", sans-serif' text-anchor="end" textLength="34.12" lengthAdjust="spacingAndGlyphs" stroke="#1a1a1a" stroke-width="0.9" >1.44</text>
<text x="1347.00" y="1351.60" font-size="31.5" fill="#1a1a1a" font-family='"Liberation Sans", sans-serif' text-anchor="end" textLength="34.12" lengthAdjust="spacingAndGlyphs" stroke="#1a1a1a" stroke-width="0.9" >0.01</text>
<text x="1453.80" y="1351.60" font-size="31.5" fill="#1a1a1a" font-family='"Liberation Sans", sans-serif' text-anchor="end" textLength="43.88" lengthAdjust="spacingAndGlyphs" stroke="#1a1a1a" stroke-width="0.9" >19.08</text>
<text x="1022.00" y="1403.40" font-size="31.5" fill="#000" font-family='"Liberation Sans", sans-serif' text-anchor="end" textLength="35.00" lengthAdjust="spacingAndGlyphs" font-weight="bold" stroke="#000" stroke-width="0.54" >Sum</text>
<text x="1069.60" y="1403.40" font-size="31.5" fill="#000" font-family='"Liberation Sans", sans-serif' text-anchor="end" textLength="34.12" lengthAdjust="spacingAndGlyphs" font-weight="bold" stroke="#000" stroke-width="0.54" >1.11</text>
<text x="1172.00" y="1403.40" font-size="31.5" fill="#000" font-family='"Liberation Sans", sans-serif' text-anchor="end" textLength="53.62" lengthAdjust="spacingAndGlyphs" font-weight="bold" stroke="#000" stroke-width="0.54" >100.00</text>
<text x="1233.30" y="1403.40" font-size="31.5" fill="#000" font-family='"Liberation Sans", sans-serif' text-anchor="end" textLength="53.62" lengthAdjust="spacingAndGlyphs" font-weight="bold" stroke="#000" stroke-width="0.54" >100.00</text>
</svg>
</body></html>
